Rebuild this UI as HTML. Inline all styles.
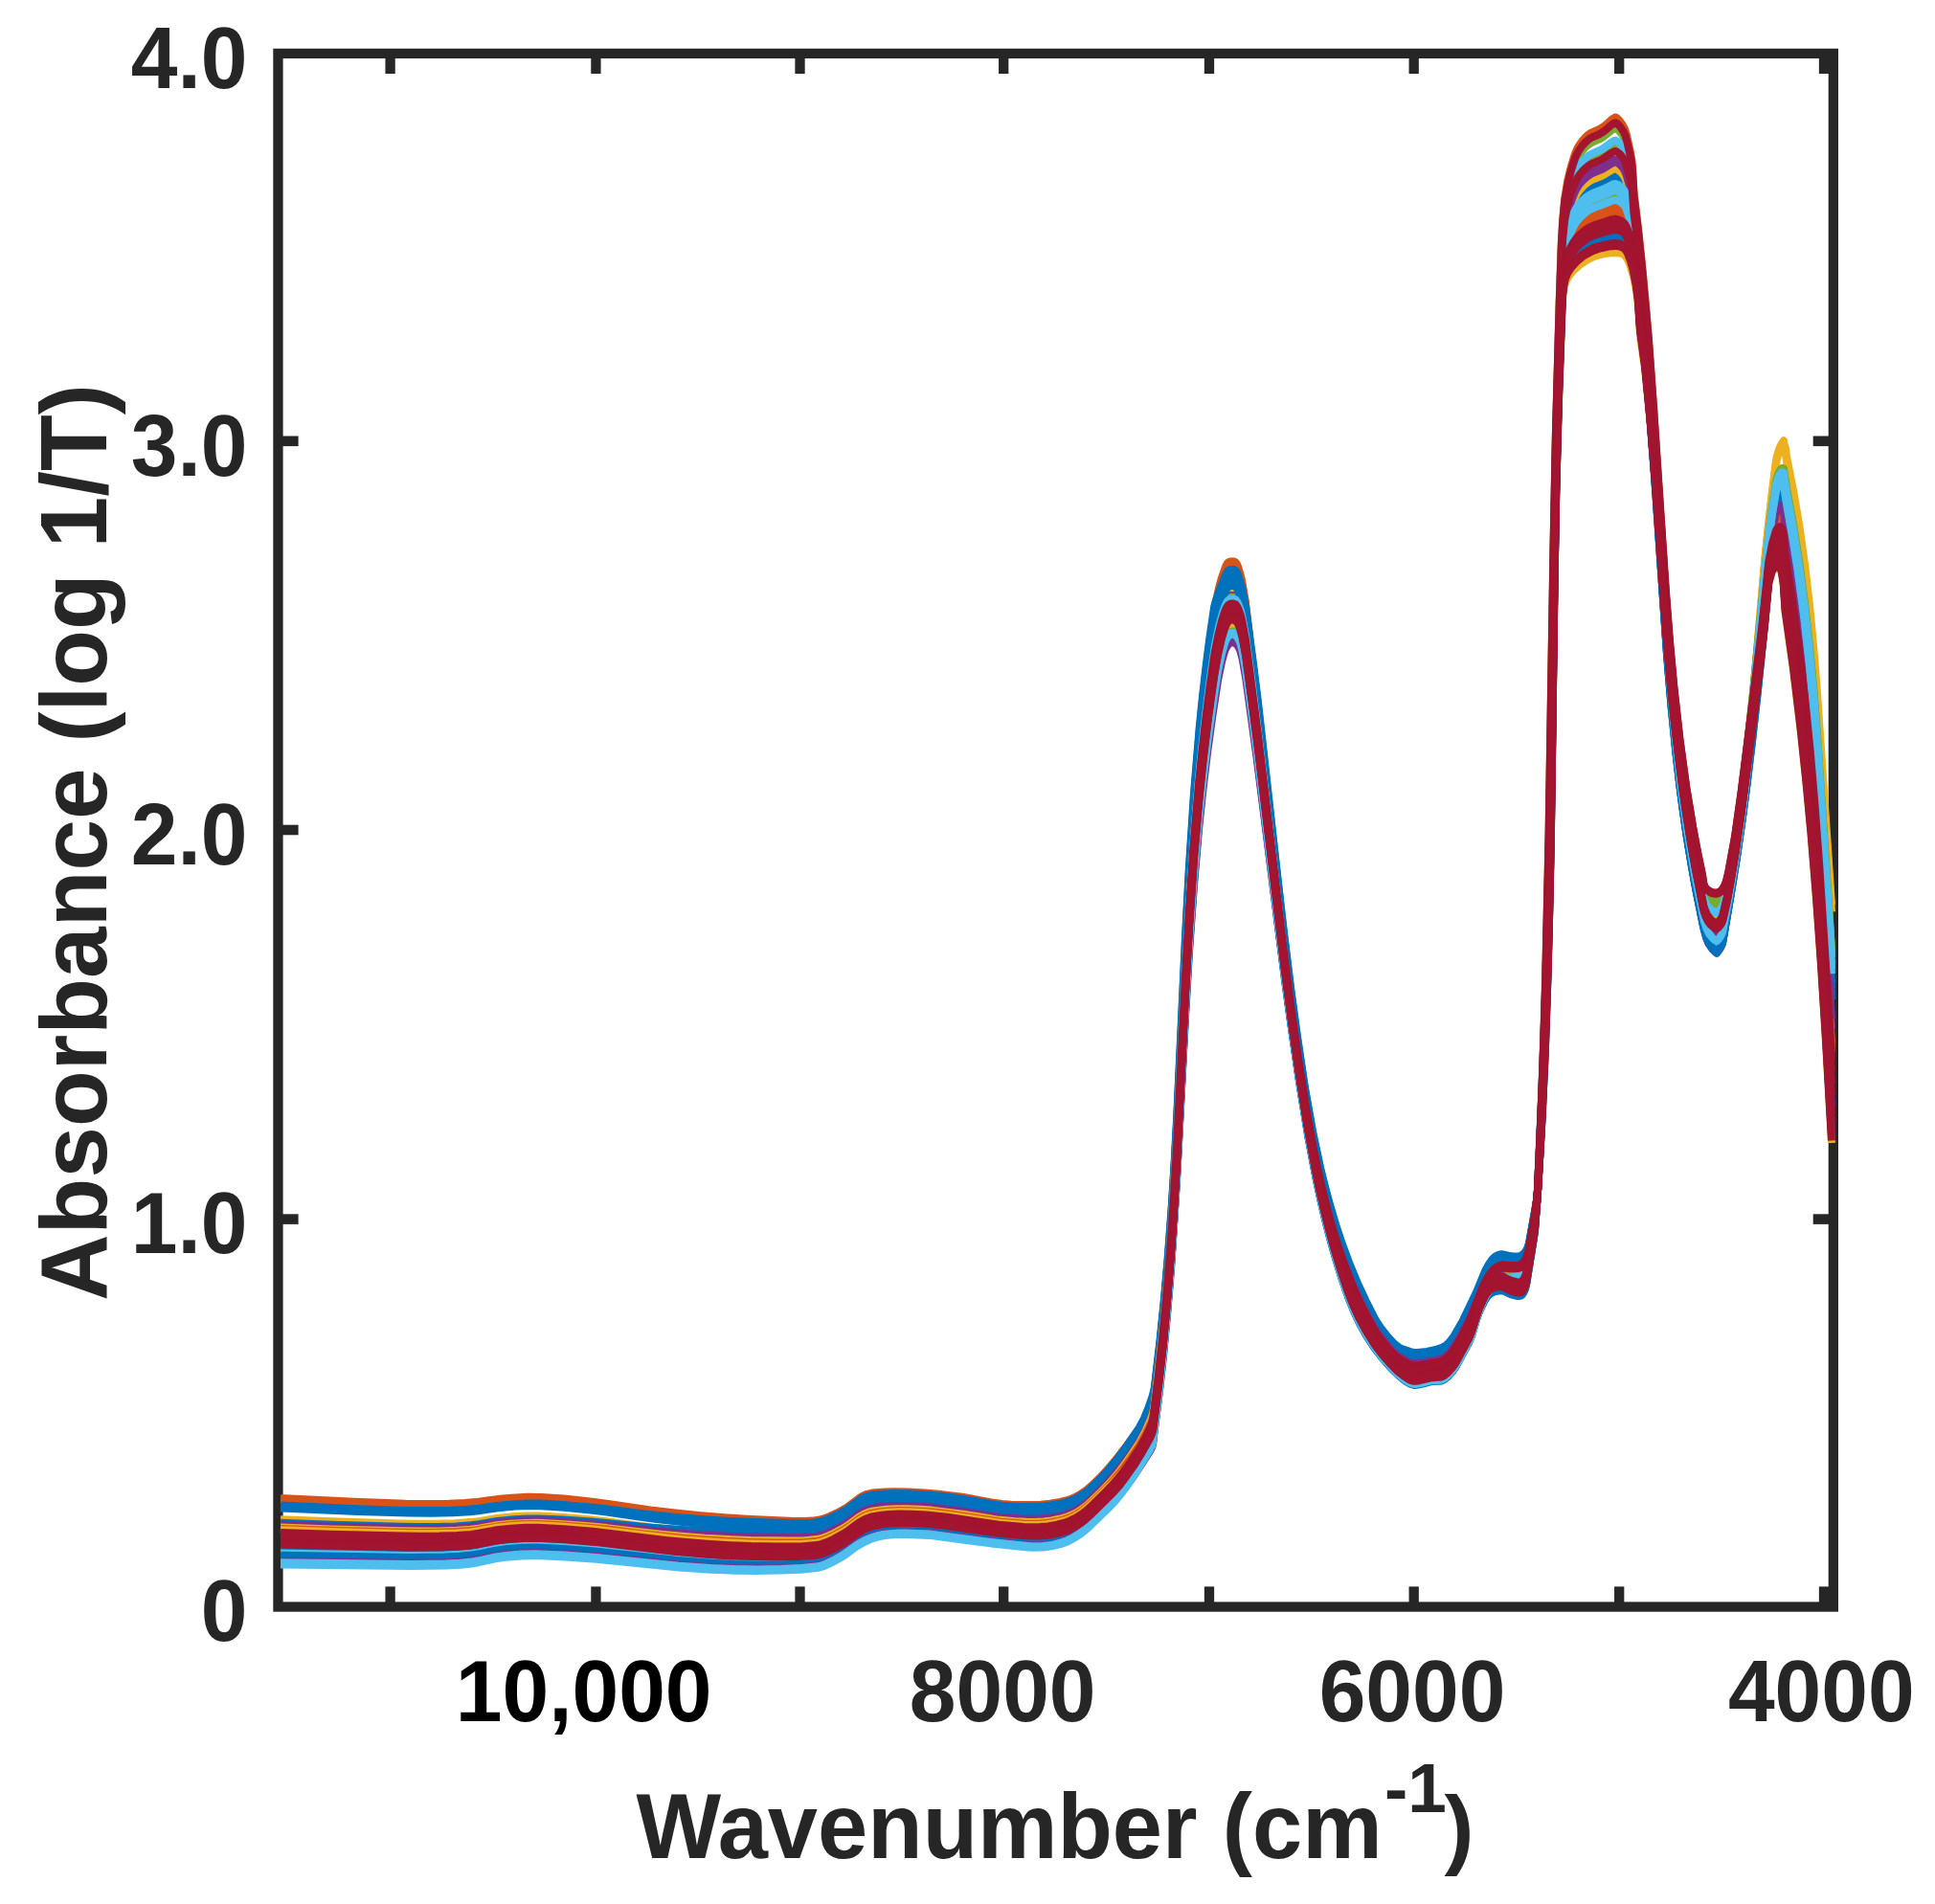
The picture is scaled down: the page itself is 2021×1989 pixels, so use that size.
<!DOCTYPE html>
<html><head><meta charset="utf-8"><title>Absorbance spectra</title>
<style>html,body{margin:0;padding:0;background:#fff;}svg{display:block;}</style>
</head><body>
<svg width="2021" height="1989" viewBox="0 0 2021 1989"><rect x="0" y="0" width="2021" height="1989" fill="#fff"/>
<rect x="290.45" y="55.9" width="1624.40" height="1622.65" fill="none" stroke="#262626" stroke-width="10.3"/>
<line x1="407.6" y1="1678.55" x2="407.6" y2="1657.40" stroke="#262626" stroke-width="10.3"/>
<line x1="407.6" y1="55.9" x2="407.6" y2="77.05" stroke="#262626" stroke-width="10.3"/>
<line x1="622.4" y1="1678.55" x2="622.4" y2="1657.40" stroke="#262626" stroke-width="10.3"/>
<line x1="622.4" y1="55.9" x2="622.4" y2="77.05" stroke="#262626" stroke-width="10.3"/>
<line x1="835.5" y1="1678.55" x2="835.5" y2="1657.40" stroke="#262626" stroke-width="10.3"/>
<line x1="835.5" y1="55.9" x2="835.5" y2="77.05" stroke="#262626" stroke-width="10.3"/>
<line x1="1048.2" y1="1678.55" x2="1048.2" y2="1657.40" stroke="#262626" stroke-width="10.3"/>
<line x1="1048.2" y1="55.9" x2="1048.2" y2="77.05" stroke="#262626" stroke-width="10.3"/>
<line x1="1263.0" y1="1678.55" x2="1263.0" y2="1657.40" stroke="#262626" stroke-width="10.3"/>
<line x1="1263.0" y1="55.9" x2="1263.0" y2="77.05" stroke="#262626" stroke-width="10.3"/>
<line x1="1476.7" y1="1678.55" x2="1476.7" y2="1657.40" stroke="#262626" stroke-width="10.3"/>
<line x1="1476.7" y1="55.9" x2="1476.7" y2="77.05" stroke="#262626" stroke-width="10.3"/>
<line x1="1691.2" y1="1678.55" x2="1691.2" y2="1657.40" stroke="#262626" stroke-width="10.3"/>
<line x1="1691.2" y1="55.9" x2="1691.2" y2="77.05" stroke="#262626" stroke-width="10.3"/>
<line x1="1905.0" y1="1678.55" x2="1905.0" y2="1657.40" stroke="#262626" stroke-width="10.3"/>
<line x1="1905.0" y1="55.9" x2="1905.0" y2="77.05" stroke="#262626" stroke-width="10.3"/>
<line x1="290.45" y1="460.8" x2="311.60" y2="460.8" stroke="#262626" stroke-width="10.6"/>
<line x1="1914.85" y1="460.8" x2="1893.70" y2="460.8" stroke="#262626" stroke-width="10.6"/>
<line x1="290.45" y1="867.0" x2="311.60" y2="867.0" stroke="#262626" stroke-width="10.6"/>
<line x1="1914.85" y1="867.0" x2="1893.70" y2="867.0" stroke="#262626" stroke-width="10.6"/>
<line x1="290.45" y1="1273.6" x2="311.60" y2="1273.6" stroke="#262626" stroke-width="10.6"/>
<line x1="1914.85" y1="1273.6" x2="1893.70" y2="1273.6" stroke="#262626" stroke-width="10.6"/>
<g fill="none" stroke-width="8" stroke-linejoin="round" stroke-linecap="butt"><path d="M293.0,1565.0 370.0,1568.8 423.2,1570.7 448.0,1571.0 468.8,1570.7 485.8,1570.0 497.0,1569.1 519.5,1566.1 534.2,1564.7 551.0,1563.8 565.5,1564.0 589.0,1565.6 616.2,1568.4 633.5,1570.6 679.2,1577.5 705.2,1580.5 732.0,1583.2 756.5,1585.2 779.2,1586.7 829.5,1589.0 840.5,1589.1 848.8,1588.6 854.5,1587.8 860.5,1586.3 866.2,1584.2 874.8,1580.2 884.5,1574.7 897.2,1565.2 901.0,1562.7 905.5,1560.8 910.8,1559.6 924.5,1558.6 934.5,1558.3 949.2,1558.6 966.0,1559.4 983.8,1561.1 1005.0,1563.8 1035.5,1569.4 1046.5,1571.0 1056.0,1571.7 1066.2,1572.1 1087.2,1571.7 1097.0,1570.7 1107.5,1568.9 1115.5,1566.9 1121.8,1564.6 1127.8,1561.4 1134.8,1556.6 1140.0,1552.1 1148.0,1544.4 1156.8,1535.0 1167.5,1522.2 1178.2,1508.2 1190.2,1491.5 1195.2,1482.2 1200.2,1470.6 1204.0,1460.0 1205.8,1452.0 1211.5,1403.4 1216.0,1360.0 1220.0,1314.8 1223.8,1264.8 1226.8,1217.6 1229.5,1167.9 1237.8,994.6 1241.5,923.9 1246.2,850.9 1251.8,784.1 1257.8,725.5 1268.8,633.9 1273.5,612.4 1276.0,603.6 1278.8,595.5 1280.5,591.0 1282.0,588.3 1283.5,587.0 1285.8,586.4 1288.5,586.5 1290.5,587.4 1291.8,589.1 1293.0,592.0 1295.2,599.1 1296.8,605.2 1300.8,628.3 1317.8,775.6 1338.5,960.4 1346.0,1022.2 1353.5,1078.9 1362.2,1138.4 1370.5,1186.4 1375.0,1209.1 1379.5,1229.8 1384.2,1249.7 1389.5,1269.6 1396.0,1292.0 1403.0,1313.6 1409.8,1332.1 1416.8,1349.1 1425.5,1367.5 1436.0,1387.0 1441.5,1395.2 1449.2,1404.9 1456.0,1412.1 1461.0,1416.3 1464.5,1418.4 1471.8,1421.7 1476.5,1423.1 1479.8,1423.2 1486.0,1422.3 1504.0,1418.8 1506.5,1417.9 1508.8,1416.7 1513.2,1412.9 1516.5,1409.1 1520.0,1403.9 1525.2,1394.9 1530.2,1385.3 1537.5,1370.0 1550.5,1337.4 1554.2,1330.5 1558.0,1325.0 1560.0,1322.8 1562.0,1321.1 1566.8,1318.7 1569.5,1318.1 1577.2,1319.0 1582.8,1319.1 1586.0,1318.7 1588.2,1318.0 1590.0,1316.9 1591.8,1315.3 1593.2,1313.1 1595.5,1307.8 1597.2,1301.2 1603.0,1268.7 1604.8,1256.6 1605.8,1247.5 1609.5,1163.0 1612.0,1094.7 1614.2,1019.1 1617.5,873.4 1622.2,584.0 1624.8,456.5 1628.8,310.8 1630.8,253.4 1632.2,229.2 1634.2,207.3 1637.2,189.2 1639.5,179.3 1642.0,170.1 1645.0,160.7 1647.5,154.8 1649.8,151.0 1652.5,147.2 1655.5,143.8 1658.8,140.8 1662.0,138.6 1669.8,135.3 1673.2,133.3 1676.5,130.9 1683.8,124.4 1686.8,122.6 1687.5,122.6 1688.8,123.3 1691.5,126.1 1694.8,130.7 1697.0,134.9 1698.8,140.6 1702.8,158.2 1704.5,168.3 1705.2,177.1 1706.5,200.7 1711.0,238.2 1715.0,275.8 1718.5,313.2 1721.8,352.4 1727.0,425.4 1739.8,622.4 1744.0,678.4 1748.5,728.9 1754.5,784.3 1761.0,832.3 1768.5,877.9 1773.0,901.7 1778.0,925.9 1779.2,933.9 1780.2,937.2 1781.5,939.9 1783.0,942.3 1784.8,944.3 1787.0,946.1 1789.8,947.6 1792.2,948.3 1793.8,948.0 1795.5,946.9 1797.2,945.3 1799.5,941.8 1802.2,933.5 1805.0,922.0 1812.2,880.9 1817.8,842.7 1823.0,802.1 1837.0,682.7 1847.2,584.4 1850.8,564.8 1854.8,549.1 1856.0,546.6 1857.8,544.5 1859.2,543.7 1860.5,544.3 1861.8,547.3 1863.0,553.0 1864.2,568.5 1872.2,619.7 1878.0,660.5 1884.5,713.5 1890.2,768.7 1895.0,822.5 1899.8,885.7 1910.0,1043.4 1913.0,1094.3" stroke="#D95319"/><path d="M293.0,1567.1 370.8,1570.8 424.0,1572.6 448.8,1572.9 469.2,1572.6 486.0,1571.9 497.0,1571.0 519.2,1567.9 533.8,1566.6 550.5,1565.7 565.2,1565.8 588.8,1567.4 616.2,1570.1 633.5,1572.2 679.2,1578.9 705.2,1582.0 731.8,1584.5 756.0,1586.5 778.8,1587.9 829.2,1590.0 840.2,1590.2 848.8,1589.6 854.5,1588.9 860.2,1587.4 866.0,1585.3 874.5,1581.3 884.2,1575.9 888.5,1572.9 897.2,1566.1 901.2,1563.6 905.8,1561.7 911.0,1560.6 924.5,1559.5 934.8,1559.2 949.2,1559.5 966.0,1560.3 983.5,1561.9 1005.0,1564.7 1035.5,1570.3 1046.8,1571.9 1056.5,1572.6 1066.8,1573.0 1087.5,1572.6 1097.0,1571.6 1107.8,1569.7 1115.5,1567.8 1121.8,1565.5 1128.0,1562.1 1134.8,1557.4 1140.0,1552.9 1148.0,1545.2 1156.8,1535.9 1167.8,1522.7 1178.5,1508.7 1190.2,1492.4 1195.5,1482.6 1200.5,1471.0 1204.0,1461.1 1205.8,1453.0 1211.5,1404.5 1216.0,1361.1 1220.0,1315.9 1223.8,1265.9 1226.8,1218.9 1229.5,1169.2 1237.8,996.2 1241.5,925.7 1246.2,852.8 1251.8,786.1 1258.0,725.4 1268.8,636.5 1273.5,615.0 1276.0,606.2 1278.8,598.0 1280.5,593.6 1282.0,590.9 1283.5,589.6 1285.8,588.9 1288.5,589.1 1290.5,590.0 1291.8,591.6 1293.0,594.5 1295.2,601.6 1296.8,607.6 1300.8,630.5 1317.5,774.8 1338.5,961.1 1346.0,1022.6 1353.5,1079.2 1362.2,1138.6 1370.5,1186.4 1374.8,1207.8 1379.2,1228.5 1384.0,1248.4 1389.2,1268.3 1395.8,1290.7 1402.5,1311.5 1409.5,1330.8 1416.5,1347.8 1425.2,1366.3 1436.0,1386.3 1441.2,1394.3 1448.8,1403.7 1456.0,1411.6 1461.0,1415.7 1464.5,1417.8 1471.8,1421.0 1476.2,1422.4 1479.5,1422.5 1485.8,1421.7 1503.2,1418.3 1508.0,1416.5 1512.5,1413.0 1515.8,1409.3 1519.2,1404.4 1524.8,1395.1 1529.0,1387.1 1537.2,1369.9 1550.5,1337.0 1554.0,1330.6 1557.8,1325.1 1559.8,1322.9 1561.8,1321.3 1564.2,1319.9 1566.8,1319.0 1569.5,1318.6 1577.2,1319.9 1582.2,1320.2 1585.5,1320.0 1587.8,1319.5 1589.5,1318.6 1591.2,1317.1 1592.8,1315.1 1595.0,1310.2 1597.0,1303.1 1603.2,1267.7 1605.8,1247.6 1608.5,1189.9 1612.8,1089.9 1616.0,993.8 1618.0,918.2 1619.8,833.8 1623.5,585.8 1625.2,494.9 1628.0,394.1 1631.2,303.6 1632.0,289.8 1633.8,274.4 1636.0,264.8 1638.0,259.3 1640.5,253.8 1643.8,248.1 1646.5,244.0 1649.2,240.9 1652.8,237.6 1656.8,234.5 1660.5,232.1 1666.2,229.6 1683.2,223.7 1687.2,223.0 1689.8,223.5 1692.2,224.6 1694.5,226.1 1696.5,228.0 1699.0,232.3 1702.2,241.5 1704.5,250.0 1709.5,283.2 1711.0,296.7 1713.0,322.8 1718.2,365.0 1723.5,420.6 1728.2,479.9 1740.2,645.3 1744.5,694.5 1749.0,739.1 1755.8,794.7 1764.0,851.1 1769.8,884.2 1778.0,925.4 1779.2,933.4 1780.2,936.7 1781.5,939.4 1783.0,941.7 1784.8,943.7 1787.0,945.5 1789.2,946.7 1791.0,947.4 1793.0,947.7 1795.8,946.1 1798.2,943.5 1800.0,940.0 1802.8,931.2 1805.2,920.4 1812.2,880.6 1817.8,842.3 1823.0,801.7 1837.5,679.1 1842.5,633.1 1847.2,585.7 1851.0,565.3 1855.0,550.7 1856.0,548.9 1857.5,547.1 1859.2,546.2 1860.5,546.9 1861.8,550.2 1863.0,556.1 1864.2,571.9 1873.0,628.6 1879.8,678.1 1885.8,729.1 1891.0,781.2 1895.8,836.4 1900.2,897.4 1910.0,1048.3 1913.0,1099.3" stroke="#D95319"/><path d="M293.0,1572.6 373.0,1576.2 425.5,1577.9 450.8,1578.1 470.5,1577.8 486.5,1577.0 497.0,1576.1 518.8,1573.0 532.0,1571.7 549.5,1570.6 564.5,1570.6 588.5,1572.0 616.2,1574.4 633.5,1576.3 678.0,1582.1 703.2,1584.7 728.5,1586.8 752.8,1588.4 776.0,1589.5 829.8,1591.2 840.2,1591.3 848.8,1590.7 854.5,1589.9 860.2,1588.4 866.0,1586.3 874.5,1582.2 884.2,1576.8 897.2,1567.1 901.0,1564.7 905.5,1562.8 911.0,1561.5 924.2,1560.4 934.5,1560.1 949.0,1560.3 965.8,1561.2 983.5,1562.8 1005.0,1565.6 1035.5,1571.2 1046.8,1572.7 1056.5,1573.5 1066.8,1573.9 1077.5,1573.8 1087.5,1573.5 1097.0,1572.5 1107.8,1570.6 1115.5,1568.7 1121.8,1566.3 1128.0,1562.9 1134.8,1558.2 1140.0,1553.7 1148.0,1546.0 1157.0,1536.3 1167.2,1523.7 1177.8,1509.3 1190.0,1491.2 1194.8,1482.0 1199.5,1470.6 1203.8,1458.1 1205.8,1449.4 1211.8,1397.7 1216.0,1355.9 1220.0,1310.0 1223.8,1259.2 1226.8,1211.3 1229.5,1160.8 1238.0,979.0 1241.8,907.8 1246.8,831.1 1252.5,762.2 1256.0,727.2 1259.8,694.1 1263.2,667.4 1268.2,633.7 1269.5,628.7 1272.2,620.5 1280.5,599.6 1282.5,596.4 1284.0,595.4 1285.8,594.9 1288.5,595.0 1290.5,595.9 1291.8,597.5 1293.0,600.3 1297.0,613.4 1301.2,635.0 1308.2,687.0 1314.0,733.7 1333.8,911.6 1341.5,978.6 1348.2,1032.9 1354.8,1081.2 1363.0,1136.5 1370.8,1180.5 1379.2,1220.5 1383.8,1238.9 1388.8,1257.5 1395.2,1279.4 1402.2,1300.5 1409.5,1320.1 1417.5,1339.4 1426.0,1357.8 1436.8,1379.0 1441.8,1386.7 1449.5,1396.5 1456.2,1403.7 1461.0,1407.5 1464.0,1408.9 1473.0,1412.1 1476.8,1413.0 1480.2,1413.0 1490.2,1411.9 1500.5,1409.6 1504.5,1408.4 1507.5,1407.0 1510.2,1405.3 1512.8,1403.1 1515.5,1399.9 1518.5,1395.7 1527.5,1380.3 1542.2,1349.6 1551.2,1327.4 1555.2,1320.2 1558.5,1315.5 1560.5,1313.5 1562.5,1312.1 1565.0,1310.9 1567.8,1310.2 1569.5,1310.3 1575.2,1311.7 1580.5,1312.4 1584.0,1312.5 1586.8,1312.2 1588.8,1311.4 1590.5,1310.3 1592.2,1308.7 1593.8,1306.6 1595.8,1302.6 1597.2,1297.4 1605.0,1254.1 1605.8,1247.5 1610.5,1137.5 1613.2,1061.9 1615.5,987.8 1619.0,834.4 1623.2,572.3 1625.2,471.3 1628.5,355.2 1631.0,286.1 1632.2,264.0 1634.2,246.2 1637.0,233.7 1639.2,226.4 1641.8,219.7 1645.0,212.4 1647.5,208.1 1650.0,204.8 1653.0,201.6 1656.2,198.7 1659.8,196.1 1663.8,194.0 1673.8,190.0 1682.5,185.1 1685.8,183.6 1687.0,183.3 1688.0,183.6 1691.2,185.3 1694.8,188.6 1697.2,192.2 1699.0,196.6 1702.5,208.7 1704.0,215.1 1705.0,221.4 1706.5,239.3 1710.2,266.4 1713.0,296.6 1717.8,339.1 1721.8,384.8 1727.5,463.3 1740.5,664.1 1745.0,722.2 1749.5,771.2 1755.5,824.7 1762.0,871.1 1770.0,918.1 1779.8,966.5 1782.5,975.5 1784.8,980.7 1789.0,986.2 1791.0,988.1 1792.8,989.3 1793.0,989.4 1795.0,987.2 1797.8,982.9 1798.8,980.6 1799.8,976.5 1807.2,934.0 1813.2,896.9 1820.0,850.4 1824.0,818.7 1830.5,755.7 1842.0,622.1 1847.5,566.3 1851.0,542.5 1855.0,520.2 1856.5,516.1 1858.2,512.7 1859.8,511.1 1861.0,511.0 1862.2,512.6 1863.0,514.4 1864.0,524.1 1866.0,536.9 1872.2,573.1 1877.5,607.1 1884.2,657.9 1890.0,710.2 1894.5,759.4 1898.8,814.6 1910.2,986.7 1913.0,1032.1" stroke="#0072BD"/><path d="M293.0,1575.4 373.5,1578.9 426.0,1580.5 451.2,1580.7 473.2,1580.3 490.8,1579.3 500.0,1578.3 520.2,1575.2 538.5,1573.6 552.2,1573.0 564.5,1573.2 589.0,1574.8 617.0,1577.5 633.5,1579.5 665.8,1584.4 683.8,1586.8 710.0,1589.8 735.2,1592.2 759.5,1594.1 782.2,1595.4 827.8,1597.1 840.0,1597.2 848.8,1596.6 854.2,1595.9 859.8,1594.5 865.5,1592.4 874.0,1588.4 883.8,1582.9 897.0,1573.1 901.2,1570.4 906.2,1568.4 912.2,1567.1 924.5,1565.9 934.8,1565.5 949.2,1565.7 965.8,1566.5 982.5,1568.0 1004.8,1570.9 1035.5,1576.3 1046.8,1577.8 1057.5,1578.7 1068.2,1579.1 1078.8,1579.2 1088.2,1578.8 1097.5,1577.8 1107.8,1575.9 1115.2,1573.9 1121.8,1571.4 1127.8,1568.1 1134.5,1563.3 1139.8,1558.8 1147.8,1551.0 1157.2,1541.0 1167.5,1528.4 1177.8,1514.2 1189.8,1496.0 1195.0,1485.8 1200.2,1473.1 1204.0,1461.9 1205.8,1453.4 1211.5,1403.9 1215.8,1362.4 1219.8,1316.9 1223.5,1266.7 1226.5,1219.5 1229.2,1169.7 1238.0,983.8 1241.8,912.8 1246.8,836.2 1252.5,767.3 1256.2,729.9 1260.0,697.3 1263.5,671.3 1268.2,640.4 1269.5,635.6 1272.5,626.6 1280.5,606.5 1282.8,603.0 1284.2,602.1 1286.0,601.6 1288.5,601.8 1290.5,602.7 1291.8,604.2 1293.0,606.9 1295.5,614.2 1297.0,619.7 1301.2,640.8 1308.0,689.4 1313.0,728.8 1339.8,966.2 1347.5,1029.1 1355.2,1086.6 1363.5,1141.3 1371.2,1184.8 1379.8,1224.5 1384.5,1243.8 1389.2,1261.4 1395.8,1283.2 1402.8,1304.2 1410.0,1323.7 1417.8,1342.3 1426.2,1360.5 1436.8,1380.8 1442.0,1388.8 1449.8,1398.5 1456.2,1405.5 1461.0,1409.2 1464.0,1410.7 1473.0,1414.2 1476.8,1415.1 1480.2,1415.0 1490.2,1413.9 1501.5,1411.4 1505.0,1410.2 1507.8,1408.9 1510.2,1407.3 1512.8,1405.2 1515.8,1401.7 1518.8,1397.4 1527.8,1381.9 1541.2,1353.5 1551.0,1329.7 1555.0,1322.5 1558.5,1317.5 1560.5,1315.5 1562.8,1314.0 1565.2,1312.9 1568.0,1312.3 1569.8,1312.4 1575.2,1313.8 1580.2,1314.4 1583.8,1314.6 1586.8,1314.3 1588.8,1313.5 1590.5,1312.4 1593.5,1308.9 1595.8,1304.1 1597.2,1298.7 1605.0,1254.3 1605.8,1247.5 1610.5,1139.1 1613.2,1064.3 1615.5,990.8 1619.0,838.2 1623.2,574.5 1625.2,472.9 1628.5,356.9 1631.0,287.8 1632.2,265.6 1634.2,248.0 1636.8,236.6 1639.0,229.3 1641.5,222.6 1644.8,215.3 1647.2,211.0 1649.8,207.7 1653.0,204.2 1656.2,201.3 1659.8,198.7 1663.8,196.6 1673.8,192.6 1685.5,186.5 1687.0,186.2 1687.8,186.3 1691.0,187.9 1694.5,191.0 1697.2,194.8 1699.0,199.1 1702.5,211.1 1704.0,217.4 1705.0,223.6 1706.5,241.1 1710.5,270.3 1713.0,298.5 1717.8,340.6 1721.8,386.3 1727.5,464.6 1740.5,665.3 1745.0,723.3 1749.5,772.2 1755.5,825.7 1762.0,872.1 1770.0,919.1 1779.8,967.4 1782.5,976.6 1784.8,981.8 1789.0,987.4 1791.0,989.4 1792.8,990.6 1793.0,990.7 1795.0,988.4 1797.8,984.0 1798.8,981.7 1799.8,977.6 1807.5,933.3 1813.5,896.0 1820.0,851.2 1824.0,819.5 1830.5,756.9 1842.0,624.1 1847.2,570.2 1850.8,546.5 1854.8,524.6 1856.0,520.8 1857.8,517.3 1859.2,515.3 1860.0,514.9 1860.8,514.9 1862.0,516.5 1863.0,519.0 1864.2,530.8 1872.2,578.7 1877.2,611.3 1884.0,662.3 1890.0,716.9 1894.5,766.3 1898.8,821.4 1910.2,994.0 1913.0,1039.6" stroke="#0072BD"/><path d="M293.0,1587.2 346.5,1589.3 416.5,1591.4 436.8,1591.8 455.0,1591.7 475.2,1591.2 491.2,1590.1 500.0,1589.1 519.5,1585.9 535.8,1584.3 550.5,1583.5 563.2,1583.5 588.5,1585.0 617.5,1587.5 633.5,1589.3 666.8,1593.7 687.5,1596.2 712.0,1598.7 735.0,1600.7 759.0,1602.3 781.8,1603.3 825.5,1604.3 838.8,1604.3 847.8,1603.7 853.5,1603.0 858.8,1601.8 864.2,1599.8 872.8,1595.9 882.8,1590.3 887.2,1587.3 897.0,1579.9 901.5,1577.1 907.8,1574.7 915.0,1573.3 926.0,1572.1 936.5,1571.7 950.5,1571.9 966.8,1572.7 982.5,1574.2 1005.2,1577.2 1035.2,1582.3 1046.2,1583.8 1067.5,1585.3 1077.2,1585.4 1086.0,1585.2 1094.8,1584.5 1104.0,1582.9 1112.0,1581.0 1118.8,1578.7 1124.8,1575.7 1130.8,1571.9 1136.2,1567.6 1142.8,1561.6 1155.5,1548.8 1166.0,1536.9 1176.5,1523.3 1189.0,1505.4 1195.8,1493.2 1201.8,1479.9 1204.2,1472.4 1205.8,1463.5 1211.2,1417.5 1215.8,1374.6 1219.8,1330.0 1223.5,1280.8 1229.2,1186.2 1238.0,1006.5 1241.8,937.6 1246.8,862.8 1252.2,797.8 1255.8,763.1 1259.5,730.0 1263.5,698.4 1268.5,662.6 1272.8,643.4 1276.0,631.9 1278.8,623.7 1280.5,619.4 1282.2,616.5 1284.0,615.0 1286.0,614.4 1288.5,614.5 1290.8,615.6 1292.0,617.3 1293.5,620.6 1295.5,626.4 1297.0,632.2 1301.0,653.6 1308.0,707.3 1314.8,762.5 1341.5,994.5 1348.8,1051.8 1355.8,1102.7 1364.5,1160.0 1372.8,1206.2 1377.2,1228.3 1382.0,1249.5 1387.0,1269.9 1392.0,1288.6 1398.5,1310.6 1405.5,1332.0 1411.5,1348.1 1418.0,1363.3 1426.2,1379.6 1435.8,1395.9 1442.0,1404.8 1450.2,1414.7 1457.0,1421.8 1462.2,1426.2 1471.2,1431.5 1474.0,1432.7 1476.2,1433.3 1478.5,1433.4 1481.8,1433.0 1495.5,1430.2 1504.8,1428.9 1508.2,1427.4 1512.2,1424.3 1516.5,1419.5 1520.2,1414.1 1532.8,1391.0 1537.0,1381.8 1543.2,1363.9 1548.2,1351.7 1551.8,1344.7 1555.5,1339.4 1557.8,1337.2 1560.2,1335.3 1562.8,1334.2 1565.5,1333.4 1568.0,1333.2 1569.8,1333.4 1578.2,1336.3 1582.5,1337.2 1585.5,1337.4 1587.5,1337.2 1589.0,1336.5 1590.5,1335.2 1591.8,1333.5 1593.8,1329.0 1595.5,1321.6 1598.0,1308.4 1603.0,1277.7 1605.8,1247.8 1610.5,1159.9 1614.2,1075.8 1617.0,996.5 1618.8,929.7 1620.0,867.0 1623.5,614.8 1625.2,519.3 1627.8,426.2 1631.8,316.8 1632.5,307.7 1634.0,298.8 1635.8,293.5 1638.5,288.6 1643.5,282.5 1650.0,276.7 1657.5,271.6 1665.0,268.0 1674.0,265.4 1684.2,264.0 1691.8,264.4 1694.0,265.0 1696.2,266.3 1698.0,268.0 1699.5,270.2 1702.2,276.4 1706.0,288.5 1708.5,300.6 1710.8,317.5 1713.2,352.2 1718.2,387.5 1724.0,445.7 1728.8,503.0 1740.2,657.1 1744.5,705.1 1748.8,746.2 1755.2,799.2 1763.2,854.3 1770.8,897.5 1778.0,933.4 1779.2,940.9 1780.2,944.4 1782.2,948.9 1784.2,952.1 1786.5,954.4 1789.5,956.5 1793.0,957.8 1795.2,956.3 1797.2,954.2 1798.5,952.4 1799.5,950.1 1802.2,940.1 1805.0,927.8 1808.2,910.1 1812.0,887.7 1817.5,850.0 1821.5,819.5 1825.0,789.0 1831.0,727.2 1843.0,587.1 1847.0,548.0 1851.2,511.0 1854.8,482.2 1855.5,478.2 1857.0,472.6 1858.8,467.6 1860.8,463.6 1863.0,460.3 1863.5,463.9 1864.8,467.6 1866.2,477.9 1873.2,513.1 1879.2,548.5 1885.2,590.9 1890.5,636.8 1894.2,676.7 1897.8,720.9 1913.0,945.0" stroke="#EDB120"/><path d="M293.0,1590.7 346.5,1592.7 418.5,1594.7 438.0,1595.1 456.8,1594.9 476.2,1594.4 491.5,1593.3 500.0,1592.2 519.2,1589.0 534.2,1587.5 549.5,1586.6 562.5,1586.4 588.0,1587.6 617.2,1589.5 633.5,1590.9 680.2,1595.7 705.2,1597.6 727.5,1599.0 751.8,1600.1 775.2,1600.7 828.5,1601.2 839.5,1601.0 853.0,1599.7 857.5,1598.7 862.5,1597.1 871.5,1593.1 882.2,1587.2 887.2,1584.0 897.5,1576.2 902.8,1573.1 906.8,1571.6 911.0,1570.6 924.2,1569.1 934.2,1568.6 946.5,1568.7 962.2,1569.3 974.5,1570.3 1007.2,1574.4 1040.8,1580.1 1056.5,1581.7 1068.5,1582.2 1079.8,1582.3 1089.5,1581.8 1098.2,1580.8 1106.8,1579.2 1113.5,1577.5 1119.2,1575.5 1124.5,1572.9 1129.8,1569.7 1135.5,1565.4 1148.8,1552.9 1158.5,1542.6 1168.2,1531.0 1178.8,1516.9 1190.0,1500.5 1196.0,1489.2 1201.5,1476.6 1204.0,1469.3 1205.8,1459.9 1211.5,1411.4 1215.8,1370.5 1219.8,1325.8 1223.5,1276.4 1226.5,1230.0 1229.2,1181.2 1238.0,999.7 1241.8,930.3 1246.8,855.1 1252.2,789.8 1255.8,755.0 1259.5,721.8 1263.5,690.1 1268.5,654.1 1272.8,635.8 1276.0,624.8 1279.0,616.2 1280.8,612.0 1282.2,609.6 1283.8,608.3 1286.0,607.6 1288.5,607.7 1290.5,608.6 1291.8,610.1 1293.2,613.4 1295.5,620.0 1297.0,625.8 1301.0,647.3 1313.8,748.6 1340.2,978.2 1347.2,1033.6 1354.2,1084.8 1362.8,1140.9 1370.8,1185.9 1379.2,1225.5 1383.8,1243.8 1388.8,1262.2 1395.2,1283.9 1402.2,1304.7 1409.5,1324.1 1417.5,1343.2 1426.0,1361.4 1436.5,1381.6 1441.8,1389.6 1449.5,1399.4 1456.2,1406.6 1461.0,1410.4 1464.2,1412.1 1472.8,1415.4 1476.8,1416.4 1480.2,1416.4 1489.8,1415.2 1501.8,1412.6 1507.5,1410.5 1510.2,1408.7 1512.5,1406.8 1515.5,1403.4 1518.8,1398.8 1527.8,1383.3 1540.0,1357.6 1551.0,1330.8 1554.8,1324.1 1558.2,1319.1 1560.2,1317.0 1562.5,1315.4 1565.0,1314.3 1567.8,1313.6 1569.8,1313.7 1575.5,1315.1 1580.5,1315.7 1584.0,1315.9 1586.8,1315.5 1588.5,1314.9 1590.2,1313.8 1591.8,1312.4 1593.2,1310.4 1595.5,1305.7 1597.2,1299.4 1603.2,1265.8 1605.0,1254.5 1605.8,1247.5 1611.8,1114.9 1614.8,1037.4 1617.2,959.0 1620.2,825.1 1623.5,601.4 1625.2,508.3 1627.8,415.3 1631.8,306.4 1632.8,294.9 1634.5,285.0 1636.8,278.5 1640.2,271.9 1645.8,264.5 1651.5,259.0 1659.2,253.7 1667.0,250.2 1679.2,246.8 1686.8,245.6 1689.5,245.9 1692.2,246.6 1694.5,247.7 1696.5,249.3 1698.2,251.5 1699.8,254.3 1703.2,263.9 1705.2,271.7 1708.5,289.7 1710.8,306.9 1713.2,340.1 1718.2,378.0 1723.2,432.1 1728.5,499.9 1740.8,676.5 1745.2,730.3 1749.8,775.7 1756.5,832.0 1764.0,882.7 1768.5,908.9 1773.2,934.0 1779.2,963.6 1781.8,972.3 1783.2,976.5 1785.0,980.0 1787.8,983.6 1790.8,986.7 1793.0,988.2 1796.0,984.6 1798.2,980.7 1799.5,976.7 1807.0,934.8 1812.2,902.7 1818.0,864.0 1822.0,834.4 1825.5,804.5 1831.0,749.2 1841.8,623.5 1847.2,566.9 1850.8,542.4 1855.0,517.9 1856.5,513.7 1858.2,510.2 1859.8,508.5 1861.0,508.3 1862.2,509.7 1863.0,511.3 1864.0,520.7 1866.0,533.4 1872.0,567.8 1877.2,601.4 1884.0,651.6 1890.0,705.7 1894.5,754.9 1898.8,810.0 1910.2,981.9 1913.0,1027.1" stroke="#0072BD"/><path d="M293.0,1592.8 346.2,1594.7 419.0,1596.7 438.2,1597.0 457.0,1596.9 476.2,1596.3 491.5,1595.2 500.0,1594.1 519.2,1590.8 534.2,1589.3 549.5,1588.4 562.8,1588.3 588.5,1589.7 617.8,1591.9 633.8,1593.5 666.5,1597.4 687.2,1599.5 711.0,1601.7 732.8,1603.3 756.8,1604.6 779.8,1605.4 825.5,1606.0 838.2,1605.9 847.5,1605.3 853.5,1604.6 858.5,1603.4 864.0,1601.5 872.8,1597.4 882.5,1591.9 887.0,1588.9 896.8,1581.6 901.5,1578.6 907.8,1576.2 915.5,1574.6 926.0,1573.5 936.8,1573.1 950.8,1573.2 967.0,1574.0 982.5,1575.6 1005.2,1578.6 1035.2,1583.6 1046.2,1585.0 1067.8,1586.6 1077.2,1586.8 1086.0,1586.6 1094.8,1585.8 1104.0,1584.3 1112.0,1582.3 1118.8,1580.0 1124.8,1577.0 1130.8,1573.1 1136.2,1568.9 1142.5,1563.0 1155.8,1549.8 1166.2,1538.0 1176.8,1524.5 1189.0,1507.2 1196.0,1494.8 1202.0,1481.9 1204.2,1475.1 1205.8,1465.9 1211.2,1420.3 1215.8,1377.5 1219.8,1333.2 1223.5,1284.3 1229.2,1190.3 1238.0,1012.1 1241.8,943.7 1246.8,869.5 1252.2,804.8 1255.8,770.2 1259.8,735.1 1264.0,702.0 1268.8,668.6 1272.8,650.1 1276.0,638.2 1278.8,629.8 1280.5,625.4 1282.2,622.5 1284.0,621.0 1286.0,620.3 1288.5,620.4 1290.8,621.5 1292.2,623.6 1294.0,627.7 1295.8,632.9 1297.2,638.9 1301.2,660.9 1313.8,758.9 1335.0,941.7 1344.5,1019.2 1356.0,1103.3 1361.5,1139.3 1366.5,1169.3 1371.2,1195.0 1376.2,1219.4 1381.5,1242.3 1387.0,1263.9 1393.0,1285.1 1399.5,1305.7 1406.2,1325.1 1413.0,1342.3 1420.5,1359.2 1428.5,1375.0 1437.0,1390.2 1443.8,1399.6 1453.0,1410.5 1457.0,1414.6 1460.2,1417.3 1464.2,1419.8 1472.0,1423.5 1475.0,1424.6 1477.8,1424.9 1487.0,1423.8 1505.0,1420.2 1507.2,1419.3 1509.8,1417.7 1514.5,1413.3 1518.0,1408.7 1521.2,1403.6 1526.0,1395.2 1532.0,1383.6 1536.8,1373.5 1544.0,1355.4 1549.5,1343.1 1552.2,1338.7 1556.0,1335.0 1558.0,1333.9 1560.0,1333.4 1562.0,1333.5 1564.5,1334.3 1569.2,1336.9 1577.5,1344.7 1582.2,1348.0 1584.8,1349.1 1586.8,1349.6 1588.5,1349.4 1589.8,1348.5 1591.2,1346.5 1592.5,1344.1 1594.2,1338.0 1600.5,1300.8 1603.0,1283.6 1605.8,1247.9 1607.8,1215.2 1610.0,1172.2 1612.0,1125.8 1615.0,1034.9 1617.5,929.3 1619.5,817.1 1623.2,564.9 1625.2,463.7 1629.0,332.9 1631.0,278.3 1632.5,253.6 1634.5,236.5 1637.5,222.7 1639.8,215.2 1642.2,208.2 1645.2,201.1 1647.8,196.6 1650.2,193.2 1653.2,189.8 1656.5,186.8 1659.8,184.3 1663.2,182.5 1673.5,178.2 1683.0,172.3 1686.2,170.8 1687.0,170.6 1688.2,170.9 1691.5,173.1 1695.0,176.8 1697.2,180.3 1699.0,185.1 1702.5,197.9 1704.8,209.1 1706.5,231.2 1710.5,261.4 1713.0,288.2 1717.5,329.5 1721.5,375.9 1727.5,459.8 1740.5,665.5 1745.0,724.9 1749.5,775.0 1755.2,827.5 1761.5,872.8 1769.8,921.7 1779.5,970.3 1782.5,980.8 1784.5,985.8 1788.5,991.6 1792.5,995.5 1793.0,995.8 1796.8,990.6 1798.5,987.1 1799.5,983.3 1808.5,930.2 1814.0,895.5 1820.2,852.4 1824.2,820.9 1831.2,754.4 1842.0,633.4 1847.2,579.2 1850.8,558.1 1854.8,540.1 1856.0,537.2 1857.5,534.9 1859.2,533.4 1860.5,533.6 1861.8,536.0 1863.0,540.6 1864.2,554.8 1872.2,604.8 1877.5,640.9 1884.2,694.2 1890.0,748.2 1894.8,801.2 1899.2,860.3 1910.0,1024.1 1913.0,1074.4" stroke="#7E2F8E"/><path d="M293.0,1595.5 345.8,1597.4 420.0,1599.3 438.8,1599.6 457.8,1599.4 476.8,1598.8 491.5,1597.8 500.0,1596.7 519.2,1593.3 533.8,1591.8 549.0,1590.9 562.5,1590.8 588.5,1592.2 618.0,1594.6 633.8,1596.1 667.5,1600.3 692.0,1603.0 714.2,1605.1 735.8,1606.8 760.2,1608.1 783.5,1609.0 825.0,1609.5 839.2,1609.4 853.0,1608.1 857.5,1607.2 862.2,1605.6 870.8,1601.8 881.0,1596.3 886.2,1592.9 897.2,1584.6 902.8,1581.4 907.2,1579.7 912.0,1578.5 925.8,1576.7 935.2,1576.2 946.8,1576.2 961.2,1576.8 973.0,1577.6 1007.2,1582.0 1040.8,1587.4 1060.0,1589.2 1071.5,1589.8 1081.5,1589.9 1090.5,1589.4 1098.5,1588.4 1106.8,1586.8 1113.5,1584.9 1119.5,1582.6 1125.0,1579.8 1130.5,1576.2 1135.8,1572.1 1149.8,1558.7 1160.0,1548.0 1168.8,1537.6 1179.0,1523.7 1189.8,1507.6 1196.8,1494.4 1202.2,1481.9 1204.2,1475.6 1205.8,1466.2 1211.2,1420.1 1215.8,1377.0 1219.8,1332.4 1223.5,1283.1 1229.2,1188.4 1238.0,1008.8 1241.8,939.8 1246.8,865.0 1252.2,799.9 1255.8,765.1 1259.8,730.0 1264.0,696.8 1268.8,663.3 1273.0,644.4 1276.2,632.9 1279.0,624.8 1280.8,620.6 1282.2,618.2 1284.0,616.7 1286.0,616.1 1288.5,616.2 1290.8,617.3 1292.0,619.0 1293.5,622.3 1295.5,628.0 1297.0,633.8 1301.0,655.2 1308.0,708.8 1314.8,763.8 1341.2,993.1 1348.5,1050.3 1355.5,1101.2 1364.2,1158.6 1372.8,1206.1 1381.8,1248.2 1386.5,1267.6 1391.8,1287.2 1398.2,1309.3 1405.2,1330.6 1411.5,1347.4 1418.0,1362.5 1426.2,1378.9 1435.8,1395.3 1442.0,1404.2 1450.2,1414.1 1457.0,1421.2 1462.0,1425.4 1471.2,1430.9 1474.0,1432.0 1476.2,1432.6 1478.8,1432.7 1482.0,1432.3 1495.5,1429.6 1504.8,1428.2 1508.5,1426.6 1512.5,1423.4 1516.5,1418.8 1520.2,1413.4 1532.5,1390.8 1537.0,1381.1 1543.2,1363.3 1548.5,1350.5 1551.8,1344.1 1555.8,1338.5 1558.2,1336.0 1560.5,1334.4 1563.0,1333.3 1565.8,1332.6 1569.8,1332.6 1578.0,1335.4 1585.2,1336.6 1587.2,1336.4 1589.0,1335.7 1590.5,1334.4 1591.8,1332.7 1593.8,1328.3 1595.5,1321.0 1598.0,1307.9 1603.0,1277.3 1605.8,1247.8 1609.8,1172.8 1613.2,1093.3 1616.2,1005.4 1618.2,928.0 1619.8,853.0 1623.5,594.2 1625.2,501.6 1627.8,408.6 1631.8,300.0 1632.8,288.2 1634.5,277.7 1636.8,270.5 1640.2,263.1 1645.2,255.4 1650.2,250.0 1657.8,244.2 1661.2,242.2 1665.0,240.5 1679.2,235.9 1685.2,234.5 1687.0,234.3 1689.0,234.6 1693.2,236.1 1696.8,238.9 1699.2,243.1 1702.8,252.7 1705.2,263.0 1710.2,295.5 1713.0,330.3 1718.0,369.0 1722.5,415.4 1728.0,482.4 1740.5,654.8 1744.8,703.9 1749.2,748.2 1755.5,799.8 1763.0,851.7 1770.2,893.8 1778.0,932.4 1779.2,940.0 1780.0,942.7 1781.8,946.9 1783.8,950.3 1785.8,952.6 1788.5,954.7 1791.0,956.0 1793.0,956.5 1795.0,955.2 1796.8,953.6 1798.2,951.6 1799.2,949.7 1802.0,940.2 1804.8,928.2 1808.0,910.8 1812.0,887.1 1817.0,852.9 1821.2,820.8 1824.8,790.7 1830.8,730.0 1843.2,586.5 1847.0,549.9 1851.0,515.5 1854.8,485.6 1855.5,481.7 1857.2,475.5 1859.0,470.8 1861.0,467.3 1863.0,465.0 1863.5,468.7 1864.8,472.8 1866.2,483.1 1873.2,518.8 1879.2,554.6 1885.2,597.4 1890.5,643.5 1894.2,683.5 1898.0,731.1 1913.0,952.5" stroke="#EDB120"/><path d="M293.0,1596.9 345.8,1598.7 420.5,1600.7 439.0,1600.9 458.0,1600.7 476.8,1600.1 491.5,1599.1 500.0,1597.9 519.2,1594.6 533.8,1593.0 549.0,1592.1 562.5,1592.0 588.8,1593.5 618.2,1595.9 634.0,1597.6 668.0,1601.9 693.8,1604.8 715.0,1606.9 736.5,1608.6 760.2,1610.0 783.0,1610.9 809.0,1611.4 837.5,1611.4 853.0,1610.1 858.0,1609.0 863.2,1607.2 871.8,1603.3 881.5,1597.9 886.5,1594.6 896.8,1586.9 901.8,1583.9 909.0,1581.1 917.8,1579.4 927.5,1578.4 938.2,1578.0 952.0,1578.2 967.5,1578.9 978.8,1580.0 992.8,1581.8 1046.0,1589.7 1068.5,1591.4 1077.8,1591.7 1086.0,1591.5 1094.5,1590.8 1103.2,1589.3 1111.0,1587.4 1117.8,1585.1 1123.8,1582.2 1129.8,1578.4 1135.5,1574.0 1141.5,1568.5 1155.5,1554.6 1164.2,1545.1 1172.5,1534.9 1181.8,1522.3 1189.8,1510.4 1196.5,1498.3 1202.2,1486.1 1203.8,1482.0 1204.5,1478.5 1206.0,1468.3 1210.0,1435.4 1215.0,1389.5 1219.2,1343.6 1223.2,1292.4 1226.2,1247.3 1229.2,1195.3 1238.0,1018.3 1241.8,950.4 1246.8,876.3 1252.2,811.8 1255.8,777.3 1259.8,742.3 1264.0,709.3 1268.8,676.1 1272.8,656.7 1276.0,644.5 1278.5,636.5 1280.2,632.0 1282.0,628.8 1283.8,627.2 1286.0,626.3 1288.5,626.4 1290.8,627.5 1292.2,629.5 1294.0,633.4 1295.8,638.5 1297.2,644.5 1301.0,664.8 1313.8,763.7 1340.8,991.8 1348.0,1047.8 1355.0,1097.7 1363.8,1154.0 1371.8,1198.0 1376.0,1218.5 1380.5,1238.2 1385.2,1257.1 1390.2,1275.3 1397.0,1297.4 1404.2,1318.7 1411.0,1336.4 1418.5,1353.8 1426.8,1370.7 1436.5,1388.4 1442.2,1396.8 1450.5,1406.9 1456.8,1413.4 1461.5,1417.3 1464.8,1419.1 1472.0,1422.5 1476.8,1423.9 1479.8,1423.8 1485.8,1423.0 1504.0,1419.5 1508.5,1417.5 1512.8,1414.1 1516.0,1410.4 1519.5,1405.4 1529.0,1388.5 1537.0,1371.9 1550.0,1339.7 1553.0,1334.2 1557.0,1328.6 1559.0,1326.6 1561.0,1325.1 1563.5,1324.0 1566.0,1323.3 1569.2,1323.3 1577.8,1325.9 1582.2,1326.8 1585.2,1327.0 1587.2,1326.7 1589.0,1326.0 1590.8,1324.6 1592.2,1322.6 1594.5,1317.5 1597.0,1307.5 1603.0,1272.7 1605.8,1247.7 1608.8,1187.7 1612.8,1094.6 1615.8,1005.5 1617.8,929.4 1619.5,844.9 1623.2,596.4 1625.2,490.6 1628.0,389.9 1631.2,299.4 1632.0,285.8 1633.8,270.0 1636.0,259.9 1638.0,254.1 1640.5,248.3 1644.0,241.8 1646.8,237.6 1649.5,234.3 1653.0,231.0 1656.8,228.0 1660.2,225.8 1665.5,223.3 1683.8,216.6 1687.5,215.9 1690.0,216.6 1692.2,217.7 1694.5,219.4 1696.5,221.4 1699.0,225.9 1702.2,235.5 1704.5,244.2 1706.5,260.0 1709.8,281.0 1711.0,292.6 1713.0,318.1 1718.2,361.2 1723.5,417.6 1728.2,477.8 1740.0,641.9 1744.2,692.2 1748.5,735.4 1754.8,788.5 1762.0,839.9 1769.0,881.6 1778.0,926.9 1779.5,935.8 1780.5,938.8 1782.0,941.8 1783.5,944.0 1785.2,945.9 1788.0,947.9 1790.5,949.1 1793.0,949.6 1794.2,948.9 1797.2,946.5 1799.5,942.9 1802.5,933.4 1805.2,921.5 1812.2,881.6 1817.8,843.4 1823.5,798.8 1836.2,688.9 1847.2,583.1 1850.8,563.1 1854.8,546.8 1856.0,544.2 1857.5,542.2 1859.2,541.1 1860.5,541.6 1861.8,544.5 1863.0,549.9 1864.2,565.0 1872.2,616.0 1878.0,656.5 1884.5,709.2 1890.2,764.2 1895.0,817.9 1899.8,881.1 1910.0,1038.6 1913.0,1089.3" stroke="#D95319"/><path d="M293.0,1598.3 345.5,1600.1 421.0,1602.0 439.2,1602.2 458.2,1602.0 477.0,1601.4 491.5,1600.4 500.0,1599.2 519.0,1595.8 533.5,1594.3 549.0,1593.3 562.5,1593.3 589.0,1594.7 618.8,1597.3 695.0,1606.3 715.8,1608.4 737.0,1610.1 760.5,1611.5 783.2,1612.4 808.8,1612.9 836.8,1612.9 852.8,1611.7 857.5,1610.6 862.8,1608.9 871.0,1605.1 881.0,1599.7 886.2,1596.2 896.8,1588.4 901.8,1585.4 905.5,1583.7 909.5,1582.4 919.0,1580.6 928.2,1579.7 939.0,1579.3 952.5,1579.5 967.8,1580.3 991.5,1582.9 1045.8,1591.0 1068.0,1592.7 1085.0,1592.9 1093.2,1592.3 1101.5,1591.0 1109.5,1589.2 1116.2,1587.0 1122.2,1584.3 1128.0,1580.9 1134.0,1576.5 1139.2,1571.8 1164.8,1546.5 1172.8,1537.4 1181.5,1526.7 1189.5,1516.3 1197.5,1503.7 1202.2,1495.4 1203.5,1492.5 1204.2,1489.8 1210.0,1445.7 1214.8,1403.6 1219.0,1359.6 1223.0,1310.5 1226.0,1267.3 1229.0,1217.7 1238.0,1044.0 1242.0,974.9 1247.0,904.2 1252.5,842.1 1257.0,799.6 1261.8,760.6 1268.0,715.8 1272.0,692.1 1276.0,673.9 1279.2,662.8 1280.8,659.4 1282.5,656.6 1284.2,655.1 1286.2,654.3 1288.5,654.4 1291.0,655.7 1292.8,658.0 1294.8,662.1 1296.0,665.8 1297.5,672.0 1301.0,691.1 1314.0,788.4 1341.2,1009.8 1348.8,1065.7 1356.0,1115.5 1365.0,1171.5 1373.2,1215.6 1377.8,1236.7 1382.2,1255.9 1387.0,1274.4 1392.2,1293.0 1399.0,1314.8 1406.0,1335.0 1412.8,1352.2 1419.8,1367.7 1427.5,1382.6 1436.5,1397.7 1443.5,1407.3 1452.2,1417.5 1458.2,1423.5 1463.5,1427.6 1471.8,1432.4 1474.5,1433.5 1476.8,1434.0 1482.2,1433.6 1495.5,1430.9 1505.0,1429.6 1508.8,1427.8 1513.0,1424.2 1517.0,1419.6 1520.5,1414.5 1533.0,1391.2 1537.0,1382.5 1543.2,1364.4 1548.2,1352.3 1551.8,1345.3 1555.5,1340.1 1557.8,1337.8 1560.2,1336.0 1562.8,1334.9 1565.5,1334.2 1569.8,1334.1 1578.2,1337.1 1582.5,1338.0 1585.5,1338.3 1587.5,1338.0 1589.0,1337.4 1590.5,1336.0 1591.8,1334.3 1593.5,1330.5 1595.2,1323.5 1598.0,1308.9 1602.8,1279.9 1605.8,1247.8 1609.0,1186.7 1612.0,1117.3 1614.8,1035.1 1616.8,957.8 1618.5,872.8 1623.0,583.5 1625.0,478.1 1628.5,350.9 1631.0,281.8 1632.2,259.9 1634.2,241.7 1637.0,228.7 1639.2,221.0 1641.8,214.1 1645.0,206.4 1647.5,201.9 1650.0,198.5 1653.0,195.2 1656.2,192.2 1659.8,189.6 1663.5,187.6 1673.5,183.5 1683.0,177.9 1686.5,176.4 1687.2,176.3 1688.8,176.8 1691.8,178.8 1695.0,182.2 1697.2,185.6 1699.0,190.2 1702.2,201.8 1704.8,213.7 1706.5,234.8 1710.2,262.4 1713.0,291.9 1717.8,334.7 1721.8,379.2 1727.5,454.9 1740.5,647.0 1745.0,702.4 1749.5,749.4 1756.0,805.1 1763.2,855.3 1771.8,903.7 1778.0,934.4 1779.2,941.9 1781.0,947.2 1783.2,951.7 1785.5,954.6 1789.5,957.7 1793.0,959.1 1796.2,956.5 1798.8,953.1 1800.0,949.6 1803.0,937.8 1806.5,920.7 1811.8,890.0 1818.5,843.4 1839.0,688.7 1843.2,651.5 1847.2,610.2 1848.8,604.0 1850.5,598.5 1851.8,595.9 1853.2,594.3 1854.5,593.7 1856.0,593.5 1857.5,593.8 1858.5,594.4 1860.0,596.4 1861.0,599.8 1862.8,611.9 1864.5,639.3 1873.0,700.1 1881.0,766.5 1886.5,818.8 1891.8,875.1 1897.2,942.6 1902.2,1013.0 1907.2,1092.8 1913.0,1193.9" stroke="#EDB120"/><path d="M293.0,1610.1 424.5,1613.2 441.0,1613.3 461.5,1613.0 478.5,1612.3 492.0,1611.2 500.0,1610.0 518.2,1606.5 531.2,1604.9 547.0,1603.8 561.2,1603.6 588.8,1604.9 619.5,1607.1 699.8,1615.4 737.8,1618.3 762.2,1619.4 785.8,1619.9 821.2,1619.9 838.8,1619.5 853.0,1618.2 857.2,1617.2 861.8,1615.7 870.0,1612.0 880.2,1606.5 885.5,1603.0 896.8,1594.7 903.0,1591.1 908.0,1589.2 913.2,1587.7 919.8,1586.5 927.0,1585.6 936.0,1585.2 946.5,1585.1 960.0,1585.6 971.5,1586.3 989.8,1588.5 1041.0,1596.0 1066.0,1598.3 1076.0,1598.8 1084.8,1598.7 1092.2,1598.2 1099.8,1597.1 1107.8,1595.4 1114.2,1593.4 1120.5,1590.7 1126.5,1587.3 1131.8,1583.6 1136.2,1579.9 1153.8,1562.8 1163.0,1553.0 1170.5,1543.7 1180.2,1529.8 1189.8,1514.7 1197.5,1499.9 1202.5,1488.7 1204.2,1482.9 1205.8,1472.5 1211.2,1426.3 1215.8,1383.0 1219.8,1338.2 1223.5,1288.9 1229.2,1194.5 1238.0,1015.7 1241.8,947.0 1246.8,872.1 1252.2,807.0 1255.8,772.3 1259.8,737.2 1264.0,704.1 1268.8,670.8 1272.8,652.0 1276.0,640.0 1278.8,631.5 1280.5,627.2 1282.2,624.2 1284.0,622.7 1286.0,622.0 1288.5,622.1 1290.8,623.2 1292.2,625.3 1294.0,629.3 1295.8,634.5 1297.2,640.5 1301.2,662.5 1313.5,758.2 1335.2,944.6 1344.8,1021.7 1356.2,1105.3 1361.8,1141.1 1366.8,1170.9 1371.5,1196.4 1376.5,1220.6 1381.8,1243.3 1387.2,1264.7 1393.2,1285.7 1399.8,1306.2 1406.5,1325.4 1413.2,1342.6 1420.8,1359.4 1428.8,1375.2 1437.0,1389.9 1444.0,1399.7 1453.2,1410.5 1457.0,1414.3 1460.2,1417.0 1464.2,1419.5 1472.0,1423.2 1475.0,1424.2 1477.8,1424.6 1487.2,1423.4 1504.8,1420.0 1507.2,1419.0 1509.8,1417.4 1514.5,1412.9 1518.0,1408.4 1521.2,1403.3 1526.0,1394.9 1532.0,1383.3 1536.8,1373.2 1544.2,1354.5 1549.8,1342.3 1552.8,1337.6 1556.2,1334.2 1558.2,1333.2 1560.2,1332.7 1562.5,1332.8 1564.8,1333.4 1569.2,1335.8 1577.5,1343.2 1582.5,1346.5 1585.0,1347.6 1587.0,1347.9 1588.5,1347.7 1590.0,1346.6 1591.5,1344.5 1592.8,1341.9 1594.5,1335.3 1601.0,1296.7 1603.2,1280.4 1605.8,1247.9 1608.0,1210.2 1612.0,1124.3 1615.0,1032.9 1617.5,927.1 1619.5,814.9 1623.2,563.8 1625.2,462.8 1629.0,332.0 1631.0,277.5 1632.5,252.8 1634.5,235.5 1637.5,221.7 1639.8,214.1 1642.2,207.1 1645.2,199.9 1647.8,195.3 1650.2,191.9 1653.2,188.6 1656.5,185.5 1659.8,183.0 1663.2,181.1 1673.5,176.8 1683.2,170.8 1686.5,169.3 1687.2,169.2 1688.8,169.8 1691.8,171.9 1695.0,175.4 1697.2,179.0 1699.0,183.8 1702.5,196.7 1704.8,208.0 1706.5,230.3 1710.5,260.6 1713.0,287.3 1717.5,328.6 1721.8,377.1 1727.5,455.9 1740.5,655.9 1744.8,710.7 1749.2,759.9 1755.0,811.8 1761.5,858.9 1769.2,905.2 1779.2,956.0 1781.8,964.2 1784.2,969.8 1788.0,974.5 1792.0,977.6 1793.0,978.0 1796.5,974.2 1798.5,970.9 1799.8,966.7 1805.8,936.0 1811.8,900.4 1817.2,863.4 1822.8,822.8 1829.0,772.5 1835.2,717.9 1841.5,659.0 1847.2,600.5 1850.2,587.2 1851.5,583.2 1853.0,579.8 1854.8,576.9 1856.0,575.9 1857.5,575.4 1858.5,575.5 1860.0,576.7 1861.2,580.3 1862.8,589.2 1864.5,613.4 1872.0,664.6 1878.8,716.6 1885.0,771.7 1890.8,830.1 1896.0,892.1 1901.0,960.5 1906.8,1050.0 1913.0,1156.5" stroke="#7E2F8E"/><path d="M293.0,1615.0 425.5,1617.8 441.5,1617.8 462.5,1617.5 479.0,1616.8 492.0,1615.7 500.0,1614.4 518.2,1610.8 530.8,1609.3 546.8,1608.2 561.2,1608.0 589.2,1609.4 620.2,1612.0 704.8,1621.7 741.8,1624.9 766.0,1626.2 789.8,1626.8 819.5,1626.9 838.5,1626.4 853.0,1625.1 857.2,1624.2 861.8,1622.6 870.0,1618.9 880.0,1613.4 885.0,1610.1 896.2,1601.8 903.0,1598.0 908.5,1595.8 914.0,1594.1 921.0,1592.7 928.0,1591.9 936.8,1591.4 947.0,1591.3 960.2,1591.7 971.2,1592.5 984.8,1594.0 1040.5,1601.9 1069.2,1604.7 1078.0,1605.1 1086.2,1604.9 1093.0,1604.4 1100.2,1603.3 1108.0,1601.5 1114.5,1599.4 1120.8,1596.5 1127.0,1592.8 1132.0,1589.2 1136.2,1585.6 1155.8,1566.6 1163.2,1558.6 1169.8,1550.4 1177.8,1538.9 1186.5,1525.0 1192.0,1515.1 1200.0,1499.0 1203.2,1491.1 1204.5,1485.5 1210.2,1438.6 1215.0,1393.9 1219.2,1347.2 1223.2,1295.3 1226.2,1249.6 1229.2,1197.1 1238.0,1018.3 1242.0,945.3 1246.8,874.4 1252.2,809.1 1255.8,774.3 1259.8,739.3 1264.0,706.2 1268.8,672.9 1272.8,653.9 1276.0,641.8 1278.5,633.9 1280.2,629.4 1282.0,626.3 1283.8,624.6 1286.0,623.7 1288.5,623.8 1290.8,624.9 1292.2,627.0 1293.8,630.3 1295.5,635.2 1297.0,641.0 1301.0,662.4 1308.0,715.4 1314.8,769.9 1341.5,998.8 1348.8,1055.4 1356.0,1107.6 1364.8,1164.2 1373.2,1211.2 1377.8,1233.0 1382.5,1254.0 1387.5,1274.1 1392.8,1293.4 1399.5,1315.9 1406.2,1336.1 1412.5,1352.6 1419.0,1367.3 1427.0,1382.8 1436.2,1398.2 1443.2,1407.8 1452.0,1418.1 1458.0,1424.2 1463.5,1428.5 1471.8,1433.5 1474.5,1434.6 1476.8,1435.0 1482.2,1434.6 1495.5,1431.8 1505.2,1430.5 1509.2,1428.5 1513.5,1424.7 1517.8,1419.6 1521.0,1414.7 1533.8,1390.8 1537.2,1382.9 1543.5,1364.5 1548.8,1351.4 1552.2,1344.2 1556.2,1338.2 1558.8,1335.3 1561.0,1333.3 1564.0,1331.2 1567.0,1329.8 1570.2,1329.1 1578.0,1329.6 1586.2,1329.2 1588.2,1328.5 1589.8,1327.6 1592.5,1324.2 1594.5,1319.3 1597.0,1308.8 1603.2,1271.8 1605.8,1247.7 1608.5,1191.8 1611.5,1118.5 1614.0,1040.6 1616.0,961.5 1617.8,875.7 1622.5,579.9 1624.8,463.5 1628.5,325.3 1630.8,260.7 1632.2,235.6 1634.2,214.5 1637.2,197.3 1639.5,187.9 1642.0,179.2 1645.0,170.4 1647.5,164.7 1649.8,161.1 1652.8,157.2 1655.8,153.9 1659.0,151.0 1662.2,149.0 1670.0,145.6 1673.5,143.8 1683.5,135.8 1686.5,134.0 1687.2,133.9 1688.5,134.4 1691.2,136.9 1694.5,141.1 1697.0,145.5 1698.8,150.9 1702.5,166.7 1704.5,177.5 1705.2,185.8 1706.5,207.9 1710.5,240.3 1715.2,285.4 1718.2,316.4 1721.8,357.3 1727.2,431.9 1739.8,620.1 1744.0,674.6 1748.5,723.9 1754.5,778.1 1761.2,827.6 1768.5,871.5 1773.0,895.3 1778.0,919.5 1779.5,928.8 1780.5,931.6 1782.2,934.4 1784.2,936.6 1786.8,938.3 1789.8,939.7 1792.2,940.1 1794.2,939.6 1796.2,938.4 1798.0,936.8 1799.2,935.1 1801.8,929.3 1804.2,920.3 1806.8,908.3 1811.8,879.6 1815.2,855.9 1819.5,824.7 1824.0,787.8 1830.8,725.1 1846.8,562.3 1849.8,538.2 1855.2,501.0 1857.0,495.6 1859.0,491.3 1860.8,489.3 1861.5,489.0 1862.5,489.2 1863.0,489.7 1863.5,494.3 1865.0,502.0 1866.2,510.8 1872.8,546.1 1879.0,585.3 1885.2,631.9 1890.5,679.4 1894.5,722.9 1898.2,771.1 1910.2,947.8 1913.0,992.3" stroke="#77AC30"/><path d="M293.0,1617.7 426.2,1620.4 463.0,1620.0 479.2,1619.4 492.2,1618.2 500.0,1617.0 518.0,1613.3 530.2,1611.8 546.5,1610.6 561.2,1610.4 589.8,1611.9 621.2,1614.4 705.0,1624.0 739.8,1626.9 763.0,1628.2 785.2,1628.9 809.2,1629.1 833.2,1628.7 852.0,1627.2 856.8,1626.3 861.5,1624.7 869.8,1621.0 880.0,1615.4 885.0,1612.1 895.8,1604.1 902.0,1600.4 906.8,1598.3 911.8,1596.6 917.0,1595.3 923.2,1594.2 931.8,1593.4 942.0,1593.1 954.5,1593.3 968.2,1594.0 982.5,1595.5 1045.8,1604.2 1070.8,1606.5 1078.5,1606.9 1086.0,1606.8 1093.5,1606.1 1101.8,1604.8 1108.8,1603.1 1115.0,1600.9 1121.2,1597.9 1127.2,1594.3 1133.0,1590.1 1138.5,1585.1 1163.5,1560.7 1169.0,1554.6 1175.2,1546.8 1187.0,1530.6 1199.0,1511.3 1202.8,1504.6 1204.2,1499.8 1210.5,1449.7 1215.0,1408.9 1219.2,1364.0 1223.0,1317.4 1226.0,1274.1 1229.0,1224.5 1238.0,1051.0 1242.0,981.7 1246.8,913.9 1252.2,850.8 1256.8,807.9 1261.5,768.7 1268.0,722.2 1272.2,696.5 1276.2,678.3 1279.2,667.9 1280.8,664.6 1282.5,661.8 1284.2,660.2 1286.2,659.4 1288.5,659.4 1291.0,660.8 1292.8,663.0 1294.8,666.9 1296.0,670.6 1297.5,676.8 1301.0,695.9 1313.8,790.6 1341.2,1012.1 1348.8,1067.6 1356.0,1117.2 1365.0,1172.8 1373.5,1218.0 1378.0,1238.9 1382.5,1258.0 1387.2,1276.3 1392.5,1294.9 1399.2,1316.4 1406.2,1336.5 1413.0,1353.6 1420.0,1369.0 1427.8,1383.8 1436.8,1398.7 1443.8,1408.2 1452.5,1418.3 1458.5,1424.3 1463.8,1428.4 1471.8,1433.1 1474.5,1434.2 1476.8,1434.7 1482.2,1434.3 1495.5,1431.5 1505.2,1430.2 1509.0,1428.3 1513.0,1424.9 1517.2,1419.9 1520.8,1414.7 1533.5,1391.0 1537.2,1382.5 1543.5,1364.2 1548.8,1351.2 1552.2,1344.0 1556.2,1338.0 1558.8,1335.2 1561.0,1333.2 1563.8,1331.3 1566.8,1329.9 1570.2,1329.2 1578.0,1329.9 1586.0,1329.6 1588.0,1329.1 1589.5,1328.2 1591.0,1326.8 1592.5,1324.6 1594.5,1319.6 1597.0,1309.0 1603.0,1273.9 1605.8,1247.7 1609.0,1183.2 1612.5,1101.1 1615.5,1011.0 1617.5,933.8 1619.2,848.7 1623.2,587.4 1625.2,483.1 1628.2,374.7 1631.0,298.2 1632.0,278.5 1633.8,262.0 1634.8,256.3 1636.2,250.3 1638.2,244.1 1640.8,237.8 1644.0,231.1 1646.8,226.5 1649.2,223.3 1652.5,220.0 1656.0,217.0 1659.8,214.3 1663.8,212.3 1673.8,208.5 1683.5,204.1 1687.0,203.2 1689.8,203.9 1693.8,206.5 1697.0,210.2 1699.0,214.4 1702.0,223.8 1704.0,231.4 1705.0,237.0 1706.5,251.9 1710.5,280.0 1713.0,309.7 1718.0,351.7 1722.2,396.8 1727.8,465.3 1740.2,640.1 1744.5,690.1 1749.0,735.4 1755.2,787.8 1762.5,838.7 1769.5,879.9 1779.8,932.5 1781.0,935.5 1782.8,938.2 1784.8,940.4 1787.5,942.3 1790.5,943.6 1793.0,943.9 1796.2,942.1 1798.0,940.3 1799.2,938.5 1801.8,932.0 1804.2,922.7 1806.8,910.5 1811.8,881.7 1815.5,856.3 1819.8,825.0 1824.0,790.2 1830.8,727.4 1846.8,563.6 1849.2,543.5 1855.2,503.3 1857.2,497.4 1859.0,493.8 1860.8,492.0 1862.2,492.1 1863.0,492.8 1863.5,497.5 1866.2,514.3 1872.8,549.9 1878.5,585.9 1884.8,632.1 1890.2,681.4 1894.2,724.5 1898.2,775.7 1910.2,952.7 1913.0,997.3" stroke="#77AC30"/><path d="M293.0,1619.1 426.5,1621.7 463.2,1621.3 479.5,1620.6 492.2,1619.5 500.0,1618.2 518.0,1614.6 530.2,1613.0 546.2,1611.9 560.8,1611.6 589.2,1613.1 620.8,1615.6 706.2,1625.3 742.0,1628.2 766.0,1629.5 790.0,1630.1 818.0,1630.0 838.0,1629.4 852.8,1628.1 857.0,1627.2 861.5,1625.7 869.8,1622.0 880.0,1616.4 884.8,1613.2 896.2,1604.7 903.2,1600.8 908.8,1598.6 914.5,1596.8 921.5,1595.4 928.2,1594.6 936.8,1594.1 947.0,1594.0 970.8,1595.1 983.2,1596.5 1040.0,1604.4 1070.5,1607.4 1078.8,1607.7 1086.8,1607.6 1093.5,1607.0 1100.2,1606.0 1108.0,1604.2 1114.5,1602.0 1120.8,1599.0 1127.2,1595.1 1132.0,1591.7 1136.2,1588.1 1156.5,1568.3 1163.8,1560.5 1170.0,1552.6 1177.8,1541.2 1186.0,1527.9 1191.8,1517.5 1200.2,1500.4 1203.2,1493.0 1204.5,1487.3 1210.2,1440.2 1215.0,1395.4 1219.2,1348.6 1223.2,1296.6 1226.2,1250.9 1229.2,1198.3 1238.0,1019.5 1242.0,946.5 1246.8,875.5 1252.2,810.2 1255.8,775.3 1259.8,740.3 1264.0,707.2 1268.8,673.9 1272.8,654.8 1276.0,642.7 1278.5,634.8 1280.2,630.3 1282.0,627.1 1283.8,625.4 1286.0,624.6 1288.5,624.7 1290.8,625.8 1292.2,627.8 1294.0,631.8 1295.8,636.9 1297.2,642.9 1301.0,663.2 1308.0,716.2 1314.8,770.6 1341.5,999.3 1348.8,1055.8 1356.0,1107.9 1364.8,1164.5 1373.2,1211.5 1377.8,1233.3 1382.5,1254.3 1387.5,1274.5 1392.8,1293.8 1399.5,1316.3 1406.2,1336.5 1412.5,1352.9 1419.0,1367.7 1427.0,1383.1 1436.2,1398.5 1443.2,1408.1 1452.0,1418.3 1458.0,1424.5 1463.5,1428.8 1471.8,1433.8 1474.5,1434.9 1476.8,1435.4 1482.0,1435.0 1495.5,1432.2 1505.2,1430.9 1509.2,1428.9 1513.5,1425.1 1517.8,1420.0 1521.0,1415.0 1533.8,1391.2 1537.2,1383.2 1543.2,1365.5 1548.5,1352.3 1552.0,1345.0 1556.2,1338.6 1558.8,1335.8 1561.0,1333.8 1564.0,1331.8 1567.0,1330.4 1570.2,1329.8 1578.0,1330.4 1586.2,1330.0 1588.2,1329.4 1589.8,1328.4 1592.5,1325.0 1594.5,1320.0 1597.0,1309.3 1603.0,1274.1 1605.8,1247.7 1608.2,1197.8 1611.5,1121.0 1614.2,1037.1 1616.2,959.2 1618.0,874.6 1623.0,563.9 1625.0,462.7 1628.8,328.0 1630.8,271.7 1632.2,245.3 1634.2,225.4 1637.0,210.6 1639.2,201.7 1641.8,193.6 1645.0,184.8 1647.5,179.6 1649.8,176.2 1652.8,172.5 1656.0,169.2 1659.2,166.5 1662.8,164.4 1673.5,159.6 1683.2,152.7 1686.2,151.0 1687.0,150.8 1688.2,151.2 1691.5,153.7 1695.0,158.0 1697.2,161.9 1699.0,167.2 1702.8,182.1 1704.8,193.2 1706.5,218.7 1711.0,254.7 1717.8,320.4 1721.8,365.7 1727.2,438.7 1740.0,627.6 1744.2,681.0 1748.8,729.2 1754.8,782.3 1761.8,832.8 1768.8,874.8 1773.2,898.5 1778.0,921.5 1779.5,930.7 1780.5,933.5 1782.2,936.5 1784.2,938.8 1786.5,940.5 1789.8,942.1 1792.2,942.6 1793.8,942.3 1796.0,941.0 1797.8,939.4 1799.0,937.8 1801.5,931.8 1804.0,922.9 1806.8,909.8 1811.8,881.0 1815.5,855.6 1819.8,824.2 1824.0,789.4 1830.8,726.6 1846.8,563.0 1849.5,540.8 1855.2,502.2 1857.0,496.8 1859.0,492.6 1860.8,490.6 1861.5,490.4 1862.5,490.7 1863.0,491.2 1863.5,495.9 1866.2,512.5 1873.0,549.5 1879.0,587.3 1885.2,634.0 1890.5,681.6 1894.5,725.2 1898.5,776.9 1910.2,950.3 1913.0,994.8" stroke="#77AC30"/><path d="M293.0,1620.5 426.8,1623.0 463.5,1622.6 479.5,1621.9 492.2,1620.8 500.0,1619.5 518.0,1615.8 530.0,1614.3 546.0,1613.1 560.8,1612.8 589.5,1614.3 621.0,1616.8 706.5,1626.4 742.2,1629.3 766.5,1630.6 790.2,1631.1 817.8,1631.1 838.0,1630.5 853.0,1629.1 857.0,1628.2 861.5,1626.7 869.8,1623.0 880.0,1617.3 884.8,1614.2 896.0,1605.9 903.2,1601.8 909.0,1599.4 914.8,1597.7 921.5,1596.3 928.2,1595.5 936.8,1595.0 947.0,1594.9 970.8,1595.9 982.8,1597.3 1039.8,1605.2 1070.8,1608.3 1078.8,1608.6 1086.8,1608.5 1093.5,1607.9 1100.2,1606.9 1107.8,1605.1 1114.2,1602.9 1120.8,1599.9 1127.2,1596.0 1132.0,1592.5 1136.2,1588.9 1156.5,1569.0 1163.8,1561.1 1170.0,1552.8 1177.8,1540.9 1186.0,1526.8 1191.8,1515.9 1199.5,1499.3 1203.2,1489.5 1204.5,1483.8 1210.2,1436.2 1215.0,1390.6 1219.2,1343.1 1223.2,1290.3 1226.2,1244.0 1229.2,1190.5 1238.0,1008.1 1242.0,933.6 1246.8,861.5 1252.2,795.3 1255.8,760.1 1259.5,726.9 1263.5,695.3 1268.5,659.4 1272.8,640.5 1275.8,630.1 1278.5,621.9 1280.2,617.4 1282.0,614.2 1283.5,612.8 1285.5,611.9 1288.2,611.9 1290.5,612.9 1292.0,614.8 1293.5,618.2 1295.5,624.0 1297.2,630.9 1301.2,652.9 1313.5,749.9 1334.8,934.3 1344.2,1012.3 1355.8,1096.9 1361.2,1133.1 1366.2,1163.0 1371.0,1188.6 1375.8,1211.6 1381.0,1234.3 1386.5,1255.6 1392.5,1276.5 1398.8,1296.1 1405.5,1315.2 1412.5,1333.1 1420.2,1350.8 1428.5,1367.8 1437.0,1383.7 1443.2,1392.8 1452.2,1403.6 1456.5,1408.0 1459.8,1410.7 1463.8,1413.1 1472.2,1416.6 1475.0,1417.5 1477.2,1417.8 1480.8,1417.7 1490.8,1416.4 1503.5,1413.5 1506.2,1412.5 1509.0,1411.0 1511.5,1409.1 1514.0,1406.6 1516.8,1403.2 1519.8,1398.7 1528.5,1383.2 1536.8,1366.1 1550.0,1336.5 1552.8,1332.4 1556.2,1329.2 1558.2,1328.2 1560.0,1327.9 1562.0,1328.2 1564.2,1329.2 1569.0,1332.5 1577.5,1341.7 1582.0,1345.3 1584.5,1346.8 1586.5,1347.4 1588.2,1347.3 1589.8,1346.4 1591.2,1344.5 1592.8,1341.5 1594.5,1335.0 1601.0,1296.4 1603.2,1280.2 1605.8,1247.9 1608.5,1202.7 1611.2,1150.5 1613.5,1099.8 1616.5,1013.7 1619.0,912.0 1620.8,808.8 1623.5,604.3 1625.5,499.0 1628.0,409.3 1631.2,318.5 1632.0,304.3 1633.0,294.8 1634.8,285.9 1637.2,279.4 1640.8,273.3 1646.0,266.6 1651.8,261.4 1659.2,256.3 1666.5,253.0 1678.2,249.8 1686.5,248.4 1689.5,248.7 1692.2,249.3 1694.5,250.4 1696.5,251.9 1698.2,254.0 1699.8,256.8 1703.2,266.3 1705.2,273.8 1708.5,291.4 1710.8,308.5 1713.2,341.9 1718.2,379.6 1723.0,430.9 1728.2,498.3 1741.0,682.6 1745.8,738.8 1751.0,790.5 1754.8,822.0 1759.0,853.5 1763.5,883.0 1768.5,912.4 1773.0,936.2 1779.2,966.9 1783.0,979.6 1784.5,983.0 1786.2,985.8 1790.0,990.3 1793.0,992.6 1796.0,988.8 1798.5,984.2 1799.8,979.2 1808.8,926.9 1814.2,892.1 1819.5,855.9 1822.8,831.2 1826.0,803.0 1831.2,750.2 1841.8,628.3 1847.2,571.5 1851.0,546.7 1855.0,525.8 1857.2,520.6 1859.5,517.7 1860.2,517.5 1861.0,517.8 1862.8,521.1 1864.2,534.2 1873.5,590.3 1880.0,635.1 1885.8,681.5 1890.8,729.1 1895.0,776.9 1899.2,833.0 1910.2,998.9 1913.0,1044.5" stroke="#0072BD"/><path d="M293.0,1622.6 427.2,1625.0 464.0,1624.6 479.8,1623.8 492.2,1622.7 500.0,1621.4 517.8,1617.7 529.5,1616.2 545.5,1615.0 560.5,1614.7 589.2,1616.1 621.2,1618.6 707.2,1628.2 742.8,1631.0 766.8,1632.2 791.0,1632.7 818.8,1632.6 838.5,1631.9 853.0,1630.6 857.0,1629.7 861.5,1628.2 869.5,1624.6 879.8,1618.9 884.5,1615.8 896.0,1607.3 903.2,1603.3 909.0,1600.9 914.8,1599.1 921.5,1597.7 928.5,1596.8 937.0,1596.3 947.0,1596.2 970.8,1597.3 982.2,1598.6 1039.5,1606.4 1071.5,1609.7 1079.2,1610.0 1087.5,1609.8 1094.2,1609.2 1101.2,1608.0 1108.8,1606.2 1115.2,1603.8 1121.8,1600.6 1128.2,1596.5 1136.2,1590.1 1148.2,1578.3 1159.8,1567.4 1165.5,1561.5 1171.0,1555.1 1177.8,1546.3 1185.0,1536.1 1201.0,1510.4 1203.2,1505.9 1204.2,1502.2 1210.8,1449.6 1215.0,1410.9 1219.2,1365.9 1223.0,1319.3 1226.0,1275.9 1229.0,1226.3 1238.0,1053.1 1242.0,983.8 1246.8,915.9 1252.2,852.9 1256.8,810.0 1261.5,770.8 1268.0,724.4 1272.2,698.4 1276.2,680.1 1279.2,669.6 1280.8,666.3 1282.5,663.5 1284.2,661.9 1286.2,661.1 1288.5,661.1 1291.0,662.5 1292.8,664.6 1294.8,668.5 1296.0,672.2 1297.5,678.4 1301.0,697.5 1307.8,746.2 1314.5,797.9 1342.2,1022.6 1349.8,1078.2 1357.2,1129.5 1366.5,1186.6 1375.2,1233.0 1380.0,1255.0 1384.8,1275.2 1389.8,1294.5 1395.0,1313.2 1401.8,1334.9 1408.2,1353.7 1414.2,1368.7 1420.5,1381.9 1428.0,1395.3 1436.2,1407.8 1444.8,1418.8 1455.2,1430.4 1461.5,1436.3 1468.8,1442.0 1473.2,1444.6 1477.2,1445.6 1483.0,1444.9 1495.2,1441.8 1505.8,1441.1 1509.5,1439.1 1513.8,1435.2 1518.0,1430.2 1521.0,1425.7 1534.2,1400.9 1537.2,1393.7 1542.2,1376.9 1544.8,1369.8 1550.0,1358.5 1552.0,1355.2 1554.0,1352.6 1556.5,1350.3 1559.2,1348.6 1562.2,1347.5 1565.5,1346.8 1568.2,1346.8 1570.5,1347.2 1578.2,1350.4 1585.5,1352.0 1587.5,1351.9 1588.8,1351.4 1590.0,1350.3 1591.2,1348.6 1593.0,1344.7 1594.5,1338.5 1602.5,1288.7 1603.2,1282.1 1605.8,1247.9 1609.2,1187.7 1612.0,1124.2 1614.2,1055.7 1616.2,976.6 1618.0,888.3 1622.8,577.1 1624.8,471.3 1628.5,333.0 1630.8,268.9 1632.2,242.9 1634.2,222.7 1637.0,207.6 1639.2,198.5 1641.8,190.2 1645.0,181.2 1647.5,175.9 1649.8,172.4 1652.8,168.6 1656.0,165.3 1659.2,162.5 1662.5,160.6 1673.5,155.7 1683.2,148.5 1686.2,146.8 1687.0,146.6 1688.2,147.0 1691.2,149.3 1695.0,153.9 1697.2,157.9 1699.0,163.4 1702.8,178.6 1704.8,189.8 1706.5,216.0 1710.5,247.6 1716.0,300.7 1721.5,363.4 1727.2,444.9 1740.2,652.1 1744.8,712.3 1749.2,763.2 1755.0,816.4 1761.2,862.3 1769.2,910.1 1779.5,961.8 1782.2,970.7 1784.8,976.2 1789.0,981.4 1791.2,983.4 1793.0,984.4 1795.0,982.3 1797.0,979.4 1798.2,977.2 1799.2,974.4 1806.0,938.3 1811.8,903.8 1817.0,868.8 1821.5,836.0 1825.2,804.1 1831.5,740.0 1842.5,609.8 1847.5,559.8 1851.0,534.1 1855.0,508.9 1856.5,504.1 1858.5,499.8 1860.0,497.8 1860.8,497.4 1861.5,497.4 1862.5,498.1 1863.0,498.9 1863.8,505.6 1866.2,521.2 1872.2,554.4 1877.8,588.9 1884.2,636.6 1890.0,687.9 1894.2,733.7 1898.5,788.3 1910.2,962.4 1913.0,1007.2" stroke="#4DBEEE"/><path d="M293.0,1624.7 427.8,1626.9 464.5,1626.5 480.0,1625.8 492.2,1624.6 500.0,1623.3 517.8,1619.6 529.5,1618.0 545.5,1616.8 560.5,1616.5 589.5,1618.0 621.5,1620.4 707.8,1629.9 742.8,1632.7 766.8,1633.9 791.0,1634.4 818.0,1634.2 838.2,1633.5 853.0,1632.1 857.0,1631.2 861.5,1629.7 869.5,1626.0 879.8,1620.4 884.5,1617.3 895.8,1608.9 903.2,1604.7 909.2,1602.2 915.2,1600.4 922.0,1599.0 928.8,1598.1 937.2,1597.6 947.2,1597.5 970.8,1598.6 981.8,1599.8 1039.0,1607.7 1072.2,1611.0 1079.8,1611.3 1087.8,1611.2 1094.2,1610.5 1101.2,1609.3 1108.8,1607.5 1115.0,1605.2 1121.8,1601.9 1128.2,1597.8 1136.2,1591.4 1148.2,1579.5 1160.2,1568.2 1165.8,1562.6 1171.2,1556.1 1177.8,1547.7 1185.0,1537.6 1201.2,1511.8 1203.2,1507.8 1204.2,1504.1 1210.8,1451.5 1215.0,1412.8 1219.2,1367.9 1223.0,1321.4 1226.0,1278.2 1229.0,1228.8 1238.0,1056.4 1242.0,987.4 1246.8,919.8 1252.2,856.9 1256.5,816.3 1261.2,776.9 1266.8,737.1 1272.2,702.3 1276.2,683.6 1279.2,673.1 1280.8,669.7 1282.5,667.0 1284.2,665.3 1286.2,664.5 1288.5,664.5 1291.0,665.8 1292.8,668.0 1294.8,671.8 1296.0,675.4 1297.5,681.5 1301.0,700.7 1307.8,749.1 1314.5,800.6 1342.2,1024.2 1349.8,1079.5 1357.0,1129.0 1366.2,1186.1 1375.0,1232.7 1379.8,1254.8 1384.5,1275.0 1389.5,1294.5 1394.8,1313.2 1401.5,1335.0 1408.0,1353.9 1414.0,1368.9 1420.2,1382.2 1427.5,1395.2 1435.5,1407.4 1444.0,1418.5 1454.2,1430.0 1460.5,1436.1 1468.0,1442.1 1472.8,1445.0 1476.8,1446.2 1479.0,1446.2 1482.8,1445.6 1495.5,1442.4 1505.5,1441.9 1508.8,1440.3 1512.8,1436.9 1517.5,1431.5 1520.5,1427.2 1534.0,1402.1 1537.2,1394.4 1542.2,1377.5 1544.8,1370.4 1549.8,1359.7 1551.8,1356.3 1554.0,1353.5 1556.5,1351.2 1559.2,1349.7 1562.2,1348.7 1565.5,1348.2 1568.0,1348.2 1570.5,1348.7 1578.2,1352.3 1585.2,1354.0 1587.0,1354.0 1588.5,1353.6 1589.8,1352.7 1591.0,1351.0 1593.0,1346.7 1594.2,1341.6 1602.5,1289.8 1603.2,1283.0 1606.8,1233.2 1610.8,1165.2 1614.0,1093.5 1616.5,1020.6 1618.2,953.5 1619.8,878.0 1623.2,623.2 1625.0,523.3 1627.5,426.5 1631.8,309.6 1632.8,298.2 1634.5,288.7 1637.0,282.0 1641.0,275.2 1647.0,268.1 1650.5,264.9 1654.5,261.9 1662.2,257.4 1666.2,255.7 1671.0,254.2 1680.5,252.0 1687.0,251.3 1690.2,251.6 1692.8,252.3 1695.0,253.4 1697.0,255.1 1698.8,257.4 1700.2,260.4 1703.5,269.5 1705.2,276.0 1708.8,294.6 1710.8,310.2 1713.0,341.5 1718.2,381.2 1723.2,435.2 1728.5,503.1 1741.0,683.7 1745.5,737.2 1750.5,787.0 1754.0,817.0 1758.0,847.4 1762.2,876.2 1767.0,904.9 1772.2,933.4 1779.0,966.7 1782.2,978.4 1785.0,985.1 1789.2,990.7 1791.2,992.7 1793.0,993.9 1795.2,991.2 1797.5,987.5 1798.8,984.6 1799.5,981.7 1808.0,932.1 1813.5,897.7 1819.2,858.5 1824.8,817.2 1830.0,774.1 1835.5,724.6 1842.5,656.3 1847.0,608.5 1848.2,602.4 1850.0,596.0 1851.2,592.5 1852.8,589.9 1854.8,588.0 1856.0,587.6 1857.5,587.7 1859.5,589.0 1860.8,591.9 1862.8,604.3 1864.5,630.6 1872.8,688.8 1880.5,751.8 1886.2,805.4 1891.5,861.0 1896.8,924.6 1901.8,994.2 1907.0,1077.1 1913.0,1181.4" stroke="#0072BD"/><path d="M293.0,1627.5 428.2,1629.5 465.0,1629.1 480.5,1628.3 492.5,1627.1 500.0,1625.9 517.5,1622.1 529.0,1620.5 545.0,1619.3 560.2,1619.0 589.8,1620.4 622.0,1622.8 708.2,1632.2 743.0,1634.9 767.0,1636.1 791.2,1636.5 817.8,1636.3 838.0,1635.5 853.0,1634.1 857.0,1633.2 861.5,1631.7 869.5,1628.0 879.8,1622.4 884.2,1619.4 895.8,1610.9 903.2,1606.7 909.2,1604.2 915.2,1602.3 922.2,1600.8 929.0,1599.9 937.5,1599.4 947.2,1599.3 970.8,1600.4 1038.2,1609.3 1072.8,1612.8 1080.0,1613.1 1088.0,1612.9 1094.2,1612.3 1101.2,1611.1 1108.8,1609.3 1115.0,1607.0 1121.5,1603.7 1128.2,1599.4 1136.0,1593.2 1148.5,1580.8 1160.8,1569.4 1166.0,1564.1 1171.5,1557.6 1184.8,1539.7 1201.5,1513.2 1203.2,1509.7 1204.2,1506.0 1205.0,1498.3 1210.8,1453.2 1215.0,1414.5 1219.2,1369.7 1223.0,1323.2 1226.0,1280.1 1229.0,1230.8 1238.0,1059.1 1242.0,990.2 1246.8,922.7 1252.2,859.9 1256.5,819.3 1261.2,780.0 1266.5,741.9 1272.2,705.2 1276.2,686.3 1279.2,675.7 1280.8,672.3 1282.5,669.5 1284.2,667.9 1286.2,667.0 1288.5,667.1 1291.0,668.4 1292.8,670.5 1294.8,674.2 1296.0,677.8 1297.5,683.9 1301.0,703.1 1307.8,751.4 1314.5,802.6 1342.2,1025.4 1349.8,1080.6 1357.0,1129.9 1366.2,1186.9 1375.0,1233.4 1379.8,1255.6 1384.5,1275.8 1389.5,1295.2 1394.8,1313.9 1401.5,1335.8 1408.0,1354.7 1414.0,1369.7 1420.0,1382.5 1427.2,1395.5 1435.2,1407.7 1444.0,1419.1 1454.2,1430.6 1460.5,1436.6 1468.0,1442.8 1472.8,1445.7 1476.8,1446.9 1479.0,1446.9 1482.8,1446.3 1495.2,1443.1 1505.8,1442.5 1509.0,1440.8 1512.8,1437.6 1517.5,1432.2 1520.5,1427.9 1534.0,1402.9 1537.2,1395.1 1542.2,1378.0 1544.8,1370.9 1549.8,1360.2 1551.8,1356.8 1554.0,1353.8 1556.5,1351.6 1559.2,1349.9 1562.2,1348.8 1565.5,1348.2 1568.0,1348.1 1570.5,1348.4 1578.2,1351.7 1585.5,1353.3 1587.5,1353.1 1588.8,1352.7 1590.0,1351.6 1591.2,1349.8 1593.0,1345.9 1594.5,1339.5 1602.5,1289.3 1603.2,1282.6 1606.5,1236.8 1610.5,1169.1 1613.8,1098.0 1616.2,1026.1 1618.2,949.7 1619.8,873.6 1623.2,620.1 1625.2,509.2 1628.0,408.4 1631.2,317.7 1632.0,303.4 1633.2,292.3 1635.0,284.1 1638.0,276.9 1642.8,269.4 1645.5,266.0 1648.5,262.9 1656.0,257.0 1663.5,252.9 1672.2,250.0 1681.5,247.7 1687.2,247.0 1690.5,247.5 1693.0,248.3 1695.5,249.7 1697.2,251.4 1698.8,253.6 1700.5,257.2 1704.0,267.7 1705.2,272.8 1709.0,293.7 1710.8,307.7 1713.0,338.7 1718.2,378.9 1723.2,433.4 1728.5,501.9 1741.0,683.7 1745.5,737.6 1750.5,787.7 1754.0,817.9 1757.8,846.6 1762.0,875.5 1766.5,903.0 1772.0,933.1 1779.0,967.7 1782.2,979.5 1784.8,985.7 1789.0,991.6 1791.2,993.9 1793.0,995.1 1795.2,992.4 1797.5,988.6 1798.8,985.8 1799.5,982.8 1808.2,931.3 1813.8,896.8 1819.5,857.4 1825.0,816.1 1830.2,772.9 1835.8,723.5 1842.8,655.1 1847.0,609.8 1848.2,603.8 1850.0,597.5 1851.2,594.2 1852.8,591.8 1854.8,590.3 1856.0,589.9 1857.5,590.1 1859.5,591.6 1860.8,594.6 1862.8,607.4 1864.5,634.1 1872.8,692.6 1880.5,755.9 1886.2,809.8 1891.5,865.5 1897.0,932.4 1902.0,1002.5 1907.0,1081.7 1913.0,1186.4" stroke="#0072BD"/><path d="M293.0,1630.9 428.8,1632.8 465.5,1632.3 480.5,1631.5 492.5,1630.3 500.0,1629.0 517.5,1625.2 528.8,1623.6 544.8,1622.4 560.0,1622.0 589.8,1623.4 622.2,1625.7 708.8,1634.5 742.5,1637.0 766.5,1638.0 790.8,1638.3 817.0,1638.0 837.8,1637.1 853.0,1635.6 857.0,1634.7 861.2,1633.3 869.5,1629.5 879.8,1623.8 895.8,1612.3 903.5,1608.1 909.5,1605.5 915.5,1603.6 922.2,1602.1 929.0,1601.3 937.5,1600.7 947.2,1600.6 970.5,1601.7 1037.2,1610.5 1073.0,1614.2 1080.2,1614.5 1088.2,1614.3 1094.5,1613.6 1101.5,1612.4 1108.8,1610.6 1115.2,1608.2 1121.8,1604.8 1128.5,1600.5 1136.0,1594.5 1148.5,1582.0 1161.5,1570.0 1166.5,1564.9 1171.8,1558.7 1184.8,1541.2 1201.5,1515.3 1203.2,1511.9 1204.2,1508.2 1205.0,1500.2 1211.0,1453.2 1215.0,1416.8 1219.2,1372.1 1223.0,1325.8 1229.0,1233.8 1238.0,1063.2 1242.0,994.7 1246.8,927.5 1252.2,864.9 1256.5,824.4 1261.2,785.2 1266.2,748.9 1272.2,710.0 1276.2,690.7 1279.2,680.0 1280.8,676.6 1282.5,673.8 1284.2,672.1 1286.0,671.3 1288.5,671.3 1291.0,672.6 1293.0,675.0 1295.0,678.8 1296.2,682.7 1297.8,689.1 1301.2,708.5 1312.2,788.7 1334.8,966.0 1345.0,1042.6 1357.0,1123.2 1362.8,1157.9 1368.2,1188.3 1373.0,1211.8 1378.0,1234.0 1383.2,1254.8 1388.8,1274.3 1395.0,1294.2 1401.8,1313.6 1408.8,1331.7 1416.0,1348.7 1425.0,1367.6 1435.2,1386.6 1439.8,1393.7 1446.5,1402.5 1455.2,1412.3 1461.0,1417.2 1464.8,1419.4 1472.5,1423.0 1475.5,1424.0 1478.2,1424.3 1488.5,1422.9 1505.0,1419.6 1507.2,1418.6 1509.8,1417.1 1514.5,1412.6 1518.0,1408.0 1521.2,1402.9 1526.0,1394.5 1531.8,1383.4 1536.8,1372.8 1544.5,1353.6 1549.8,1342.1 1552.8,1337.5 1556.2,1334.2 1558.0,1333.2 1560.0,1332.7 1562.0,1332.8 1564.5,1333.5 1569.2,1336.2 1577.8,1344.1 1582.5,1347.3 1585.0,1348.4 1587.0,1348.8 1588.5,1348.5 1590.0,1347.4 1591.5,1345.3 1592.8,1342.7 1594.5,1336.0 1601.0,1297.2 1603.2,1280.8 1605.8,1247.9 1608.0,1210.4 1612.0,1124.6 1615.0,1032.7 1617.5,925.9 1619.5,812.8 1623.2,561.8 1625.2,461.1 1629.0,330.3 1631.0,275.7 1632.5,251.2 1634.5,233.7 1637.5,219.7 1639.8,211.9 1642.2,204.8 1645.2,197.5 1647.8,192.8 1650.2,189.4 1653.2,186.0 1659.5,180.6 1663.0,178.6 1673.5,174.2 1683.0,168.1 1686.0,166.6 1687.0,166.4 1688.0,166.6 1691.2,168.7 1695.0,172.8 1697.2,176.4 1699.0,181.2 1702.5,194.3 1704.8,205.7 1706.5,228.5 1710.5,258.9 1713.0,285.4 1717.5,327.0 1721.8,375.7 1727.5,454.6 1740.2,651.3 1744.8,709.6 1749.2,758.9 1755.0,810.8 1761.5,857.9 1769.2,904.2 1779.5,956.1 1782.2,964.5 1784.8,969.5 1789.2,974.4 1791.2,976.0 1793.0,976.8 1796.5,973.0 1798.0,970.7 1799.0,968.4 1804.5,942.0 1809.5,913.4 1815.0,878.2 1820.5,839.1 1824.8,804.9 1831.8,739.3 1847.2,576.6 1850.8,554.8 1854.8,535.7 1856.0,532.5 1857.5,530.0 1859.2,528.2 1860.5,528.2 1861.8,530.3 1863.0,534.5 1864.2,547.9 1872.2,597.3 1877.2,631.1 1884.0,683.6 1890.0,739.3 1894.8,792.1 1899.2,851.2 1910.0,1014.4 1913.0,1064.5" stroke="#7E2F8E"/><path d="M293.0,1632.3 429.2,1634.1 465.8,1633.6 480.8,1632.8 492.5,1631.6 500.0,1630.3 517.5,1626.4 528.5,1624.9 544.2,1623.6 559.8,1623.2 589.8,1624.6 622.5,1626.9 709.0,1635.7 742.5,1638.1 766.5,1639.1 790.2,1639.4 815.8,1639.0 837.0,1638.1 852.8,1636.6 857.0,1635.7 861.2,1634.3 869.5,1630.5 879.8,1624.8 895.8,1613.3 903.5,1609.0 909.8,1606.4 915.8,1604.5 922.2,1603.0 929.0,1602.2 937.5,1601.6 947.2,1601.5 970.5,1602.5 1036.5,1611.2 1073.2,1615.1 1080.2,1615.4 1088.0,1615.2 1094.2,1614.6 1101.0,1613.4 1108.5,1611.5 1114.8,1609.2 1121.2,1606.0 1128.0,1601.7 1136.0,1595.3 1158.5,1573.3 1164.5,1566.7 1170.0,1559.5 1176.8,1549.3 1184.0,1537.3 1190.0,1526.3 1199.5,1507.1 1202.8,1499.4 1204.2,1494.0 1210.2,1444.0 1215.0,1398.8 1219.2,1351.7 1223.2,1299.4 1226.2,1253.5 1229.2,1200.8 1238.0,1021.6 1242.0,948.2 1246.8,876.9 1252.2,811.3 1255.8,776.4 1259.8,741.3 1264.0,708.3 1268.8,675.0 1272.8,655.8 1276.0,643.6 1278.5,635.6 1280.2,631.1 1282.0,628.0 1283.8,626.3 1286.0,625.4 1288.5,625.5 1290.8,626.6 1292.2,628.7 1294.0,632.6 1295.8,637.7 1297.2,643.7 1301.0,664.0 1308.2,718.9 1315.2,775.5 1342.2,1007.5 1349.5,1064.3 1356.8,1116.5 1365.8,1174.8 1374.5,1223.3 1379.2,1246.5 1384.0,1267.6 1389.2,1289.0 1394.5,1308.5 1401.0,1330.6 1407.5,1350.3 1413.2,1365.4 1419.2,1378.7 1426.8,1392.6 1435.0,1405.4 1443.2,1416.4 1453.2,1427.8 1459.8,1434.2 1467.0,1440.1 1472.2,1443.4 1474.5,1444.4 1476.8,1444.8 1479.0,1444.9 1482.8,1444.3 1495.5,1441.2 1503.5,1440.8 1505.8,1440.4 1509.2,1438.6 1513.2,1435.0 1517.8,1429.8 1520.8,1425.4 1534.5,1399.7 1537.5,1392.3 1542.5,1375.4 1544.8,1369.0 1550.5,1355.6 1552.8,1351.5 1555.2,1347.7 1558.0,1344.3 1561.0,1341.3 1564.2,1338.7 1567.5,1336.8 1571.0,1335.6 1578.0,1335.1 1587.0,1333.7 1588.5,1333.1 1590.0,1332.0 1592.5,1328.6 1594.5,1323.1 1597.0,1311.6 1603.0,1275.9 1605.8,1247.7 1609.0,1185.2 1612.5,1103.8 1615.2,1021.7 1617.2,945.3 1619.0,861.2 1623.2,584.5 1625.2,480.5 1628.2,372.1 1631.0,295.6 1632.0,276.1 1633.8,259.4 1634.8,253.5 1636.2,247.3 1638.2,240.9 1640.8,234.5 1644.0,227.6 1646.8,222.8 1649.2,219.6 1652.5,216.1 1656.0,213.1 1659.8,210.4 1663.5,208.5 1673.8,204.5 1684.2,199.6 1687.0,198.9 1690.2,200.0 1694.0,202.7 1697.0,206.2 1699.0,210.6 1702.0,220.2 1704.0,227.9 1705.0,233.6 1706.5,249.2 1710.5,277.6 1713.0,306.9 1718.0,349.6 1722.0,392.7 1727.8,465.7 1740.2,644.7 1744.5,695.9 1749.0,742.2 1755.2,795.6 1762.2,845.0 1769.2,886.4 1779.5,939.1 1780.8,942.8 1782.2,945.8 1784.0,948.4 1785.8,950.3 1788.8,952.5 1791.8,953.8 1793.0,954.0 1795.0,952.8 1798.0,949.7 1799.8,946.1 1803.2,933.4 1806.5,917.7 1811.8,887.2 1815.8,860.3 1820.2,827.2 1824.5,792.4 1830.8,734.1 1843.0,606.4 1848.0,558.6 1851.2,535.8 1855.0,513.4 1856.5,508.9 1858.5,504.8 1860.0,503.1 1861.2,502.9 1862.5,504.1 1863.0,505.1 1863.8,512.2 1866.2,528.1 1872.2,561.9 1877.5,595.2 1884.2,645.1 1890.0,696.8 1894.2,742.8 1898.5,797.4 1910.2,972.1 1913.0,1017.2" stroke="#4DBEEE"/><path d="M293.0,1633.0 429.2,1634.8 465.8,1634.2 480.8,1633.4 492.5,1632.3 500.0,1630.9 517.2,1627.1 528.5,1625.5 544.2,1624.2 559.8,1623.8 589.8,1625.2 622.8,1627.5 709.0,1636.3 742.5,1638.7 766.5,1639.6 790.8,1639.9 816.2,1639.6 837.2,1638.6 852.8,1637.1 857.0,1636.2 861.2,1634.8 869.5,1631.0 879.8,1625.3 895.8,1613.8 903.5,1609.5 909.8,1606.9 915.8,1604.9 922.2,1603.5 929.0,1602.6 937.5,1602.1 947.2,1602.0 970.5,1603.0 1036.0,1611.6 1073.5,1615.5 1080.5,1615.8 1088.2,1615.6 1094.5,1615.0 1101.2,1613.8 1108.5,1612.0 1114.8,1609.7 1121.5,1606.3 1128.2,1601.9 1135.8,1595.9 1148.2,1583.5 1161.0,1571.6 1166.0,1566.4 1171.5,1559.7 1177.8,1551.3 1184.5,1541.5 1201.2,1514.1 1203.2,1510.1 1204.2,1506.3 1205.0,1498.4 1210.8,1452.9 1215.0,1413.9 1219.2,1368.7 1223.0,1321.9 1226.0,1278.5 1229.0,1228.9 1238.0,1055.7 1242.0,986.3 1246.8,918.2 1252.2,855.0 1256.8,812.0 1261.5,772.9 1267.8,728.2 1272.2,700.3 1276.2,681.8 1279.2,671.4 1280.8,668.0 1282.5,665.2 1284.2,663.6 1286.2,662.8 1288.5,662.8 1291.0,664.1 1292.8,666.3 1294.8,670.2 1296.0,673.8 1297.5,680.0 1301.0,699.1 1307.8,747.6 1314.5,799.2 1342.2,1023.4 1349.8,1078.9 1357.0,1128.4 1366.2,1185.6 1375.0,1232.2 1379.8,1254.4 1384.5,1274.6 1389.5,1294.0 1394.8,1312.7 1401.5,1334.6 1408.0,1353.5 1414.0,1368.5 1420.2,1381.8 1427.5,1394.9 1435.8,1407.4 1444.2,1418.5 1454.5,1429.9 1460.5,1435.8 1468.0,1441.8 1472.8,1444.7 1476.8,1445.9 1479.0,1445.9 1482.8,1445.3 1495.2,1442.2 1505.8,1441.5 1509.0,1439.8 1513.0,1436.3 1517.8,1430.9 1520.8,1426.5 1534.5,1400.8 1537.5,1393.3 1542.5,1376.3 1544.8,1369.8 1550.5,1356.5 1552.8,1352.3 1555.2,1348.5 1558.0,1345.2 1561.0,1342.1 1564.2,1339.5 1567.5,1337.5 1571.2,1336.2 1578.0,1335.6 1587.2,1334.0 1590.0,1332.4 1592.5,1329.0 1594.5,1323.5 1597.0,1311.8 1603.0,1276.1 1605.8,1247.7 1609.2,1180.6 1612.8,1099.3 1615.5,1017.4 1617.5,941.1 1619.2,856.4 1623.2,591.7 1625.2,486.4 1628.2,378.1 1631.0,301.7 1632.0,281.8 1633.8,265.5 1636.0,255.0 1638.0,248.9 1640.5,242.8 1643.8,236.3 1646.5,231.8 1649.0,228.6 1652.5,225.1 1656.0,222.1 1659.8,219.5 1664.2,217.3 1673.8,213.8 1682.8,210.0 1687.0,208.8 1689.0,209.3 1691.2,210.3 1693.8,212.0 1696.0,214.1 1697.5,216.3 1698.8,218.9 1702.2,229.4 1704.5,238.5 1706.5,255.5 1709.8,277.0 1711.0,288.5 1713.0,313.4 1718.2,357.9 1723.2,414.8 1728.2,482.3 1740.2,661.4 1744.5,715.0 1749.0,763.1 1755.2,818.1 1762.0,866.1 1770.0,913.2 1779.8,961.8 1782.5,970.3 1784.8,975.1 1789.0,980.2 1791.2,982.2 1793.0,983.1 1795.0,981.1 1797.0,978.3 1798.2,976.1 1799.2,973.3 1806.0,937.6 1811.8,903.1 1817.0,868.1 1821.5,835.2 1825.2,803.4 1830.5,750.9 1842.0,616.6 1847.5,561.1 1851.0,535.8 1855.0,511.1 1856.5,506.5 1858.2,502.7 1859.8,500.6 1860.5,500.2 1861.2,500.1 1862.5,501.1 1863.0,502.0 1863.8,508.9 1866.2,524.6 1872.2,558.2 1877.5,591.2 1884.2,640.9 1890.0,692.3 1894.2,738.2 1898.5,792.8 1910.2,967.3 1913.0,1012.2" stroke="#4DBEEE"/><path d="M293.0,1634.4 429.2,1636.1 466.0,1635.5 480.8,1634.7 492.5,1633.5 500.0,1632.2 517.2,1628.3 528.2,1626.8 544.2,1625.5 559.8,1625.1 590.0,1626.4 622.8,1628.7 709.5,1637.4 742.5,1639.8 766.5,1640.7 790.2,1641.0 815.2,1640.6 836.5,1639.7 852.8,1638.1 856.8,1637.3 861.0,1635.9 869.2,1632.1 879.5,1626.4 883.8,1623.6 895.5,1614.9 903.5,1610.5 909.8,1607.8 915.8,1605.9 922.5,1604.4 929.2,1603.5 937.5,1603.0 947.2,1602.9 970.5,1603.9 1035.2,1612.4 1073.8,1616.4 1080.8,1616.7 1088.2,1616.5 1094.2,1615.9 1101.0,1614.7 1108.2,1612.9 1114.5,1610.7 1121.2,1607.2 1128.0,1602.9 1136.0,1596.5 1158.8,1574.3 1164.5,1568.0 1170.0,1560.8 1176.5,1551.0 1183.8,1538.9 1189.8,1527.9 1199.8,1507.8 1202.8,1500.8 1204.2,1495.3 1210.2,1445.2 1215.0,1400.0 1219.2,1352.9 1223.2,1300.6 1226.2,1254.8 1229.2,1202.2 1238.0,1023.4 1242.0,950.1 1246.8,878.9 1252.2,813.3 1255.8,778.4 1259.8,743.4 1264.0,710.4 1268.8,677.1 1272.8,657.7 1276.0,645.4 1278.5,637.4 1280.2,632.9 1282.0,629.7 1283.8,628.0 1286.0,627.1 1288.5,627.2 1290.8,628.3 1292.2,630.3 1294.0,634.2 1295.8,639.3 1297.2,645.3 1301.0,665.6 1308.2,720.3 1315.2,776.8 1342.5,1010.3 1349.8,1066.8 1357.0,1118.8 1366.0,1176.8 1374.8,1225.1 1379.2,1246.9 1384.2,1269.1 1389.5,1290.4 1394.8,1309.9 1401.2,1331.8 1407.8,1351.4 1413.5,1366.4 1419.5,1379.6 1427.0,1393.3 1435.2,1406.1 1443.8,1417.3 1453.8,1428.6 1460.0,1434.7 1467.5,1440.8 1472.5,1443.9 1476.8,1445.2 1479.0,1445.2 1482.8,1444.6 1495.5,1441.5 1503.5,1441.1 1505.8,1440.8 1509.2,1438.9 1513.2,1435.4 1517.8,1430.1 1520.8,1425.7 1534.5,1400.0 1537.5,1392.6 1542.5,1375.7 1544.8,1369.3 1550.5,1355.9 1552.8,1351.7 1555.2,1347.9 1558.0,1344.5 1561.0,1341.4 1564.2,1338.8 1567.5,1336.7 1571.0,1335.5 1578.0,1334.8 1587.2,1333.2 1590.0,1331.6 1592.5,1328.2 1594.5,1322.8 1597.0,1311.3 1603.0,1275.7 1605.8,1247.7 1609.0,1184.7 1612.5,1102.4 1615.2,1018.7 1617.2,940.7 1619.0,854.9 1623.2,579.4 1625.0,487.4 1628.0,375.5 1631.0,291.3 1632.0,272.1 1633.8,255.0 1634.8,248.9 1636.2,242.4 1638.5,235.0 1641.0,228.3 1644.5,220.6 1647.0,216.3 1649.5,213.0 1652.8,209.5 1656.2,206.4 1659.8,203.9 1663.8,201.8 1674.0,197.8 1684.5,192.5 1687.2,191.9 1690.2,193.0 1694.0,195.9 1697.0,199.6 1699.0,204.2 1702.2,215.0 1704.0,222.1 1705.0,228.1 1706.5,244.7 1710.5,273.5 1713.0,302.2 1718.0,345.7 1722.0,389.2 1727.5,459.4 1740.2,642.9 1744.5,694.4 1749.0,741.0 1755.0,792.6 1762.0,842.4 1769.2,885.5 1778.0,929.4 1779.5,938.2 1780.8,941.8 1782.2,944.8 1784.0,947.3 1785.8,949.1 1788.8,951.3 1791.8,952.5 1793.0,952.7 1795.2,951.4 1798.2,948.1 1799.8,945.0 1803.2,932.6 1806.5,917.0 1811.8,886.5 1815.8,859.6 1820.2,826.4 1824.5,791.3 1831.0,729.5 1844.0,591.6 1846.8,564.3 1848.8,548.0 1855.0,505.5 1856.8,499.9 1858.8,495.5 1860.5,493.5 1861.2,493.2 1862.0,493.4 1863.0,494.3 1863.5,499.1 1866.2,516.0 1872.5,550.3 1878.2,586.3 1884.8,634.2 1890.2,683.6 1894.5,729.8 1898.5,781.4 1910.2,955.1 1913.0,999.8" stroke="#4DBEEE"/><path d="M293.0,1601.1 345.0,1602.7 421.8,1604.6 439.5,1604.8 459.0,1604.6 477.2,1604.0 491.8,1602.9 500.0,1601.8 518.8,1598.3 533.0,1596.8 548.8,1595.8 562.2,1595.7 589.0,1597.2 619.0,1599.7 697.2,1609.1 717.0,1611.1 738.0,1612.8 761.8,1614.2 784.5,1615.1 810.0,1615.5 837.0,1615.4 852.8,1614.1 857.5,1613.1 862.8,1611.3 871.0,1607.6 881.0,1602.1 886.0,1598.8 896.5,1591.0 901.8,1587.8 909.5,1584.8 919.2,1582.9 928.2,1581.9 939.0,1581.5 952.2,1581.7 967.5,1582.5 989.0,1584.8 1046.0,1593.1 1069.2,1595.0 1078.0,1595.2 1086.2,1595.1 1094.5,1594.4 1103.2,1592.9 1110.8,1591.0 1117.2,1588.7 1123.5,1585.7 1129.5,1581.9 1135.0,1577.7 1141.0,1572.2 1156.0,1557.3 1164.0,1548.8 1171.8,1539.3 1180.8,1527.0 1189.8,1513.6 1197.0,1500.6 1202.5,1489.0 1203.8,1485.5 1204.5,1481.9 1210.0,1438.5 1215.0,1392.6 1219.2,1346.8 1223.2,1295.7 1226.2,1250.7 1229.2,1198.9 1238.0,1022.8 1241.8,955.1 1246.8,881.3 1252.2,816.9 1255.8,782.4 1259.8,747.5 1264.0,714.5 1268.8,681.4 1272.8,661.5 1276.0,648.9 1278.5,640.8 1280.2,636.3 1282.0,633.2 1283.8,631.4 1286.0,630.5 1288.5,630.6 1290.8,631.7 1292.5,634.1 1294.2,638.1 1295.8,642.5 1297.2,648.5 1301.0,668.8 1314.0,769.2 1340.8,994.1 1348.0,1050.0 1355.2,1101.5 1364.0,1157.5 1372.2,1202.7 1376.8,1224.2 1381.2,1243.7 1386.0,1262.5 1391.0,1280.5 1397.8,1302.5 1405.0,1323.7 1412.0,1341.9 1419.2,1358.4 1427.2,1374.4 1436.8,1391.3 1443.0,1400.1 1451.5,1410.3 1457.5,1416.5 1462.2,1420.1 1472.2,1425.3 1474.8,1426.2 1477.0,1426.6 1479.8,1426.5 1484.5,1425.9 1504.5,1422.1 1506.8,1421.3 1509.0,1420.0 1513.5,1416.1 1517.2,1411.5 1520.8,1406.2 1525.5,1397.9 1532.0,1385.4 1537.2,1374.1 1550.0,1341.4 1553.5,1334.7 1557.5,1328.8 1559.8,1326.2 1561.8,1324.5 1564.2,1323.0 1567.0,1321.8 1569.8,1321.3 1577.5,1322.0 1582.8,1322.0 1586.0,1321.7 1588.0,1321.1 1589.8,1320.1 1591.2,1318.7 1592.8,1316.7 1595.0,1311.6 1597.2,1303.0 1603.5,1266.6 1605.8,1247.6 1608.2,1194.0 1611.2,1119.3 1614.0,1032.4 1617.5,879.4 1622.5,574.6 1625.0,449.0 1628.8,314.2 1630.8,257.0 1632.2,232.4 1634.2,210.9 1637.2,193.3 1639.5,183.6 1642.0,174.7 1645.0,165.5 1647.5,159.8 1649.8,156.1 1652.8,152.0 1655.8,148.7 1659.0,145.8 1662.2,143.7 1669.8,140.5 1673.2,138.6 1676.5,136.2 1683.5,130.2 1686.8,128.2 1687.5,128.3 1688.8,129.0 1691.8,131.9 1695.5,137.3 1697.2,140.8 1698.8,145.7 1702.8,163.0 1704.5,172.9 1705.2,181.4 1706.5,204.3 1710.8,239.3 1715.0,279.4 1721.8,354.1 1727.0,424.7 1739.8,615.3 1744.0,669.4 1748.5,718.4 1754.5,772.2 1761.2,821.6 1768.2,864.2 1773.0,889.4 1778.0,913.5 1779.2,922.1 1780.0,924.7 1781.2,927.0 1783.0,928.9 1785.2,930.6 1788.0,931.9 1790.5,932.5 1793.0,932.5 1795.0,931.9 1796.8,930.9 1798.2,929.5 1801.0,925.5 1803.0,920.1 1805.2,911.2 1812.0,874.0 1818.8,826.0 1839.5,660.9 1843.2,627.7 1847.2,587.6 1851.0,567.8 1854.8,554.6 1856.0,552.4 1857.8,550.7 1859.2,550.1 1860.5,551.0 1861.5,553.5 1862.8,558.9 1864.2,577.0 1872.5,630.8 1878.5,674.4 1884.8,726.4 1890.5,782.6 1895.2,837.0 1900.0,900.6 1909.8,1051.5 1913.0,1106.8" stroke="#A2142F"/><path d="M293.0,1603.2 344.8,1604.8 422.5,1606.6 440.0,1606.8 459.5,1606.5 477.8,1605.9 491.8,1604.8 500.0,1603.7 518.8,1600.2 532.8,1598.6 548.5,1597.7 562.2,1597.6 589.0,1599.1 619.2,1601.6 699.0,1611.2 718.0,1613.1 738.8,1614.8 762.5,1616.3 785.0,1617.1 810.0,1617.5 836.5,1617.4 852.8,1616.1 857.5,1615.1 862.5,1613.4 870.8,1609.7 880.8,1604.2 886.0,1600.7 896.5,1592.9 901.8,1589.8 905.8,1588.0 910.0,1586.6 920.2,1584.6 929.0,1583.7 939.8,1583.3 953.0,1583.5 967.8,1584.2 987.8,1586.4 1046.0,1594.8 1069.5,1596.8 1078.0,1597.0 1086.0,1596.9 1094.2,1596.2 1102.8,1594.8 1110.2,1592.9 1116.8,1590.7 1123.0,1587.7 1129.0,1583.9 1134.8,1579.6 1140.5,1574.3 1156.0,1559.0 1163.2,1551.3 1170.2,1543.0 1178.2,1532.3 1187.8,1518.6 1193.0,1509.8 1201.0,1494.6 1203.2,1489.2 1204.2,1485.7 1209.8,1442.7 1214.8,1397.2 1219.0,1351.9 1223.0,1301.4 1226.0,1257.1 1229.0,1206.1 1238.0,1026.2 1242.0,954.6 1247.0,881.9 1252.5,818.3 1256.0,784.2 1260.0,749.6 1264.2,716.9 1269.0,684.2 1272.8,665.3 1276.0,652.5 1278.5,644.3 1280.2,639.7 1282.2,636.3 1284.2,634.6 1286.2,633.9 1288.8,634.1 1291.0,635.3 1292.8,638.0 1294.5,642.0 1296.0,646.6 1297.5,652.8 1301.0,672.0 1314.0,772.0 1341.0,997.9 1348.2,1053.5 1355.5,1104.7 1364.2,1160.4 1372.5,1205.4 1377.0,1226.8 1381.5,1246.3 1386.2,1265.0 1391.2,1283.1 1398.0,1305.1 1405.2,1326.3 1412.0,1343.8 1419.0,1359.8 1427.0,1375.7 1436.8,1392.8 1443.0,1401.6 1451.5,1411.7 1457.5,1417.9 1462.2,1421.6 1472.0,1426.9 1474.5,1427.8 1476.8,1428.3 1479.2,1428.3 1483.5,1427.7 1504.8,1423.8 1509.0,1421.7 1513.2,1418.1 1517.0,1413.6 1520.5,1408.4 1525.2,1400.1 1532.2,1386.7 1537.2,1375.9 1544.0,1357.7 1549.8,1343.5 1553.0,1337.1 1557.2,1330.8 1561.5,1326.6 1564.0,1325.0 1566.8,1323.8 1569.8,1323.2 1577.8,1324.0 1582.8,1324.1 1586.0,1323.8 1588.0,1323.2 1589.8,1322.1 1591.2,1320.7 1592.8,1318.7 1594.8,1314.0 1597.0,1305.4 1603.2,1269.4 1605.8,1247.6 1608.2,1195.4 1611.8,1110.3 1614.5,1024.9 1618.2,861.7 1623.0,568.9 1625.0,467.0 1628.5,339.8 1630.8,276.2 1632.2,249.4 1634.2,229.9 1637.0,215.6 1639.2,207.1 1641.8,199.3 1645.0,190.8 1647.5,185.8 1649.8,182.5 1652.8,178.9 1656.0,175.6 1659.2,173.0 1662.8,170.9 1673.5,166.3 1683.2,159.6 1686.5,158.0 1687.2,157.9 1688.8,158.5 1691.8,160.9 1695.2,165.0 1697.2,168.5 1699.0,173.6 1702.5,187.1 1704.8,198.9 1706.5,223.1 1710.8,256.4 1718.0,326.7 1722.0,371.5 1727.5,443.2 1739.8,621.0 1744.0,673.4 1748.5,721.0 1754.5,773.6 1761.5,824.3 1768.5,866.5 1773.0,890.4 1778.0,914.5 1779.2,923.0 1780.0,925.6 1781.2,928.0 1783.0,930.0 1785.2,931.7 1788.0,933.1 1790.5,933.7 1793.0,933.7 1795.0,933.1 1796.8,932.1 1798.2,930.7 1800.8,927.0 1803.0,921.0 1805.2,912.0 1812.0,874.6 1818.5,828.6 1839.5,663.9 1843.2,631.0 1847.2,590.8 1850.8,573.0 1854.5,560.8 1855.8,558.6 1857.5,557.0 1859.2,556.5 1860.2,557.2 1861.2,559.6 1862.8,566.5 1864.2,585.6 1872.2,638.4 1878.2,682.5 1884.8,737.2 1890.5,793.8 1895.5,851.5 1900.2,915.6 1906.8,1015.5 1913.0,1119.2" stroke="#A2142F"/><path d="M293.0,1604.6 344.2,1606.1 422.8,1607.9 440.2,1608.1 459.8,1607.8 477.8,1607.2 491.8,1606.1 500.0,1604.9 518.8,1601.4 532.5,1599.9 548.2,1598.9 562.2,1598.8 589.2,1600.4 619.5,1603.0 700.5,1613.0 739.8,1616.7 763.2,1618.2 785.8,1619.1 810.2,1619.5 836.0,1619.4 852.5,1618.2 857.2,1617.2 862.2,1615.5 870.5,1611.8 880.5,1606.3 885.8,1602.9 896.5,1594.8 902.0,1591.6 906.2,1589.8 910.8,1588.3 921.5,1586.2 930.2,1585.4 941.0,1585.1 954.0,1585.3 968.2,1586.0 986.8,1588.1 1046.0,1596.5 1069.5,1598.5 1078.0,1598.8 1085.8,1598.7 1093.8,1598.0 1102.0,1596.7 1109.5,1594.9 1116.0,1592.7 1122.0,1589.9 1128.0,1586.3 1133.8,1582.0 1139.5,1576.9 1163.8,1552.8 1170.2,1545.3 1177.8,1535.7 1187.2,1522.6 1192.5,1514.3 1201.2,1499.0 1203.2,1494.6 1204.2,1491.1 1210.0,1446.1 1214.8,1403.3 1219.0,1358.6 1223.0,1308.9 1226.0,1265.2 1229.0,1215.0 1238.0,1038.9 1242.0,968.7 1247.0,897.0 1252.5,834.2 1257.0,791.4 1262.0,750.3 1268.2,705.7 1272.0,684.3 1276.0,666.8 1279.5,655.2 1281.0,652.0 1282.5,649.7 1284.2,648.2 1286.2,647.5 1288.5,647.6 1291.0,648.9 1292.8,651.3 1294.8,655.6 1297.5,665.6 1301.0,684.7 1308.0,736.2 1314.8,789.0 1342.0,1014.4 1349.5,1071.1 1356.8,1121.7 1366.0,1179.8 1374.5,1225.6 1379.0,1247.0 1383.8,1267.6 1388.8,1287.4 1394.0,1306.4 1400.8,1328.6 1407.2,1347.8 1413.2,1363.3 1419.5,1377.0 1427.0,1390.9 1435.5,1404.3 1443.2,1414.6 1452.8,1425.5 1459.2,1432.0 1466.0,1437.4 1472.0,1441.3 1474.2,1442.2 1476.5,1442.8 1478.8,1442.8 1482.8,1442.2 1495.5,1439.2 1505.5,1438.4 1508.8,1436.8 1512.5,1433.7 1517.2,1428.3 1520.5,1423.7 1534.0,1398.6 1537.2,1390.9 1542.5,1373.8 1545.0,1367.0 1550.2,1355.3 1552.5,1351.5 1554.8,1348.5 1557.2,1345.9 1560.0,1343.9 1563.0,1342.3 1566.2,1341.3 1568.5,1340.9 1570.5,1341.0 1578.2,1343.1 1585.8,1343.8 1587.8,1343.4 1589.0,1342.8 1591.5,1340.0 1593.2,1336.2 1594.8,1330.3 1602.5,1284.4 1603.2,1278.3 1605.8,1247.9 1610.0,1172.2 1613.5,1093.6 1616.2,1012.9 1618.2,935.3 1619.8,859.4 1623.2,612.5 1625.2,503.3 1628.0,402.5 1631.2,311.9 1632.0,297.8 1633.5,284.7 1634.5,279.5 1635.8,275.2 1637.8,270.2 1640.0,265.8 1642.8,261.3 1646.0,256.9 1648.8,253.9 1652.5,250.6 1656.5,247.6 1660.5,245.2 1667.5,242.2 1681.2,238.1 1687.0,237.1 1691.5,238.0 1693.8,239.1 1696.0,240.8 1697.5,242.5 1698.8,244.6 1702.0,252.7 1704.8,262.5 1709.5,291.4 1711.0,304.9 1713.0,332.1 1718.2,373.0 1723.5,428.8 1728.5,492.0 1740.5,659.9 1745.0,712.4 1749.8,759.2 1757.0,817.9 1761.0,845.7 1765.2,872.5 1770.8,903.4 1779.2,946.6 1780.8,951.5 1782.8,956.2 1785.2,960.0 1788.8,963.2 1792.5,965.3 1793.0,965.4 1794.0,964.7 1796.8,961.9 1799.0,958.2 1803.2,940.9 1806.8,923.0 1811.8,893.5 1819.8,837.8 1838.5,693.2 1843.0,653.4 1847.2,609.5 1850.2,598.4 1851.5,595.4 1852.8,593.7 1854.5,592.6 1856.0,592.3 1857.5,592.6 1859.5,594.2 1860.8,597.3 1862.8,610.4 1864.5,637.5 1872.8,696.3 1880.5,760.0 1886.2,814.1 1891.5,870.0 1897.0,937.0 1902.0,1007.0 1907.0,1086.3 1913.0,1191.4" stroke="#A2142F"/><path d="M293.0,1606.6 423.5,1609.9 440.5,1610.0 460.5,1609.7 478.2,1609.1 492.0,1608.0 500.0,1606.8 518.8,1603.3 532.2,1601.8 548.0,1600.7 562.0,1600.6 589.2,1602.2 619.8,1604.8 701.5,1614.8 739.8,1618.4 763.2,1619.9 785.8,1620.7 810.2,1621.1 835.8,1620.9 852.5,1619.7 857.2,1618.7 862.2,1617.0 870.5,1613.2 880.5,1607.8 885.5,1604.5 896.2,1596.5 902.0,1593.1 906.2,1591.2 910.8,1589.8 921.5,1587.6 930.2,1586.7 940.8,1586.4 953.8,1586.6 968.0,1587.3 985.8,1589.3 1046.0,1597.8 1070.0,1599.9 1078.2,1600.2 1086.2,1600.0 1094.2,1599.3 1102.8,1597.9 1110.2,1596.0 1116.5,1593.8 1122.8,1590.8 1128.8,1587.0 1134.2,1582.9 1140.0,1577.6 1163.0,1554.6 1169.5,1546.9 1177.0,1537.0 1186.8,1522.9 1192.2,1513.8 1201.0,1497.5 1203.2,1492.3 1204.2,1488.6 1210.0,1443.2 1214.8,1399.8 1219.0,1354.5 1223.0,1304.1 1226.0,1259.9 1229.0,1209.0 1238.0,1029.8 1242.0,958.5 1247.0,885.8 1252.5,822.3 1256.2,785.9 1260.2,751.7 1264.8,717.4 1269.2,687.1 1273.0,668.1 1276.2,655.2 1278.8,647.0 1280.5,642.7 1282.2,639.7 1284.2,638.0 1286.2,637.3 1288.5,637.4 1291.0,638.7 1292.8,641.3 1294.5,645.3 1296.0,649.8 1297.5,656.0 1301.0,675.2 1314.0,774.7 1341.0,999.7 1348.2,1055.1 1355.5,1106.2 1364.2,1161.9 1372.5,1206.9 1377.0,1228.4 1381.5,1247.9 1386.2,1266.7 1391.2,1284.8 1398.0,1306.9 1405.2,1328.2 1411.8,1345.1 1418.8,1361.1 1426.8,1377.0 1436.2,1393.6 1442.5,1402.4 1451.0,1412.6 1457.2,1419.1 1462.2,1423.1 1471.8,1428.4 1474.2,1429.4 1476.5,1429.9 1479.0,1430.0 1483.0,1429.5 1504.8,1425.5 1508.8,1423.6 1512.8,1420.3 1516.8,1415.7 1520.5,1410.2 1525.2,1401.8 1532.5,1388.0 1537.2,1377.6 1543.8,1359.7 1549.5,1345.5 1552.8,1339.0 1557.0,1332.6 1559.2,1330.1 1561.5,1328.1 1564.0,1326.5 1566.8,1325.2 1569.8,1324.6 1577.8,1325.3 1586.0,1325.0 1588.2,1324.3 1589.8,1323.4 1591.2,1322.0 1592.8,1319.9 1594.8,1315.0 1597.0,1306.2 1603.2,1269.9 1605.8,1247.6 1609.2,1176.5 1613.2,1082.0 1616.2,992.4 1618.2,915.3 1619.8,841.7 1623.5,589.8 1625.2,498.2 1628.0,397.5 1631.2,306.9 1632.0,293.0 1633.5,279.5 1634.5,274.0 1635.8,269.4 1637.8,264.0 1640.2,258.7 1643.2,253.6 1646.2,249.2 1649.0,246.2 1652.5,242.9 1656.2,240.0 1660.2,237.5 1666.5,234.7 1681.8,229.7 1687.0,228.6 1691.5,229.8 1693.8,231.0 1696.0,232.8 1697.5,234.6 1698.8,236.9 1702.0,245.5 1704.5,254.6 1709.5,286.5 1711.0,300.0 1713.0,326.5 1718.2,368.3 1723.5,424.9 1728.2,485.3 1740.5,657.9 1745.0,710.7 1749.8,757.9 1757.0,816.8 1761.2,846.4 1765.5,873.0 1770.8,902.4 1779.2,945.7 1780.8,950.5 1783.0,955.6 1786.0,959.7 1788.5,961.9 1790.8,963.3 1793.0,964.1 1795.5,962.1 1798.2,958.6 1799.5,955.7 1804.5,934.1 1808.5,912.2 1814.0,877.9 1818.8,844.5 1824.2,802.2 1830.5,750.8 1837.0,693.7 1842.5,642.2 1847.2,594.0 1851.0,576.2 1852.5,571.4 1854.8,565.8 1856.5,563.8 1857.5,563.1 1858.8,562.9 1859.5,563.1 1860.2,563.9 1861.2,566.5 1863.0,576.1 1864.5,596.1 1872.8,651.3 1879.8,704.5 1885.8,757.2 1891.0,810.4 1896.0,869.3 1900.8,934.2 1907.0,1031.0 1913.0,1131.6" stroke="#A2142F"/><path d="M293.0,1608.7 424.0,1611.9 440.8,1612.0 461.0,1611.7 478.5,1611.0 492.0,1609.9 500.0,1608.7 518.5,1605.2 531.8,1603.7 547.5,1602.6 561.8,1602.5 589.2,1604.0 620.0,1606.6 702.2,1616.6 740.0,1620.1 763.5,1621.5 786.0,1622.3 810.2,1622.7 835.5,1622.5 852.5,1621.2 857.0,1620.2 862.0,1618.6 870.2,1614.8 880.2,1609.4 885.2,1606.1 896.2,1597.9 902.0,1594.6 906.5,1592.6 911.0,1591.1 922.0,1588.9 930.8,1588.1 941.2,1587.7 954.2,1588.0 968.2,1588.7 985.0,1590.5 1046.0,1599.1 1070.2,1601.2 1078.5,1601.5 1086.2,1601.4 1094.2,1600.7 1102.5,1599.3 1110.0,1597.4 1116.2,1595.2 1122.5,1592.2 1128.5,1588.4 1134.2,1584.1 1139.8,1579.1 1163.0,1555.9 1169.2,1548.6 1176.5,1539.0 1186.5,1524.6 1192.0,1515.6 1201.0,1499.1 1203.2,1493.9 1204.2,1490.3 1210.0,1444.7 1214.8,1401.4 1219.0,1356.1 1223.0,1305.8 1226.0,1261.7 1229.0,1210.9 1238.0,1032.4 1242.0,961.2 1247.0,888.7 1252.5,825.3 1256.2,789.0 1260.2,754.8 1264.8,720.6 1269.2,690.2 1272.8,672.0 1276.0,658.8 1278.5,650.3 1280.2,645.8 1282.2,642.3 1284.2,640.5 1286.2,639.9 1288.5,639.9 1291.0,641.3 1292.8,643.8 1294.5,647.7 1296.0,652.2 1297.2,657.3 1301.0,677.6 1314.0,776.8 1341.2,1003.1 1348.5,1058.3 1355.8,1109.1 1364.8,1166.0 1373.0,1210.7 1377.5,1232.0 1382.0,1251.4 1386.8,1270.2 1391.8,1288.2 1398.5,1310.2 1405.5,1330.8 1412.0,1347.6 1419.0,1363.5 1427.0,1379.2 1436.2,1395.1 1442.8,1404.2 1451.2,1414.3 1457.5,1420.8 1462.5,1424.8 1471.8,1430.1 1474.2,1431.1 1476.5,1431.6 1478.8,1431.7 1482.5,1431.2 1495.5,1428.6 1504.8,1427.2 1508.5,1425.5 1512.8,1422.1 1516.8,1417.4 1520.5,1412.0 1532.2,1390.2 1537.0,1380.0 1543.2,1362.5 1548.5,1349.9 1551.8,1343.6 1555.5,1338.5 1557.8,1336.4 1560.0,1334.9 1562.5,1334.0 1565.2,1333.5 1567.8,1333.5 1569.8,1333.9 1578.0,1337.7 1585.0,1339.4 1587.0,1339.3 1588.8,1338.8 1590.2,1337.6 1591.5,1335.9 1593.5,1331.7 1595.0,1325.7 1598.0,1309.7 1602.8,1280.5 1605.8,1247.8 1609.8,1174.4 1613.2,1095.2 1616.0,1015.0 1618.0,939.1 1619.5,866.0 1623.5,592.3 1625.2,499.9 1628.0,399.2 1631.2,308.6 1632.0,294.6 1633.5,281.2 1634.5,275.8 1635.8,271.3 1637.8,266.1 1640.0,261.4 1642.8,256.7 1646.0,252.0 1648.8,248.9 1652.5,245.5 1656.2,242.6 1660.2,240.1 1666.8,237.2 1681.2,232.6 1687.0,231.4 1691.0,232.3 1693.2,233.4 1695.5,235.0 1697.0,236.6 1698.5,239.0 1701.8,247.2 1704.5,256.9 1709.5,288.1 1711.0,301.6 1713.0,328.4 1718.2,369.9 1723.5,426.4 1728.2,486.9 1740.5,659.7 1745.0,712.6 1749.8,759.8 1757.0,818.8 1761.2,848.4 1765.5,874.9 1771.0,905.7 1779.2,947.5 1780.8,952.5 1783.0,957.7 1785.8,961.7 1790.2,965.5 1793.0,966.6 1795.0,965.1 1797.8,961.7 1799.2,958.7 1804.2,936.9 1808.5,913.7 1814.0,879.3 1818.8,846.0 1824.5,802.0 1831.0,748.8 1837.5,692.2 1842.8,643.1 1847.2,597.3 1849.0,588.5 1851.0,580.5 1852.5,576.1 1854.8,571.3 1856.5,569.7 1857.5,569.2 1858.8,569.2 1859.5,569.6 1860.2,570.5 1861.2,573.4 1863.0,583.9 1864.5,604.7 1873.0,662.4 1880.2,718.9 1886.0,770.4 1891.2,824.4 1896.2,883.9 1901.0,949.2 1907.0,1042.6 1913.0,1144.1" stroke="#A2142F"/><path d="M293.0,1610.8 424.5,1613.8 441.0,1613.9 461.2,1613.6 478.5,1613.0 492.0,1611.8 500.0,1610.6 518.5,1607.0 531.5,1605.5 547.5,1604.4 561.8,1604.3 589.5,1605.9 620.2,1608.5 703.0,1618.4 740.2,1621.8 763.5,1623.2 786.0,1624.0 810.2,1624.3 835.0,1624.0 852.5,1622.7 857.0,1621.7 862.0,1620.1 870.2,1616.3 880.2,1610.8 885.2,1607.6 896.0,1599.5 902.0,1596.0 906.5,1594.1 911.2,1592.5 922.2,1590.3 930.8,1589.4 941.2,1589.1 954.2,1589.3 968.2,1590.0 984.2,1591.7 1046.0,1600.4 1070.5,1602.5 1078.5,1602.8 1086.2,1602.7 1094.2,1602.0 1102.5,1600.6 1109.8,1598.8 1116.0,1596.6 1122.2,1593.6 1128.2,1589.9 1134.0,1585.5 1139.5,1580.5 1163.0,1557.2 1169.0,1550.2 1176.0,1541.1 1185.8,1527.1 1191.5,1517.8 1201.0,1500.6 1203.2,1495.5 1204.2,1491.9 1210.0,1446.2 1214.8,1403.0 1219.0,1357.8 1223.0,1307.6 1226.0,1263.5 1229.0,1212.9 1238.0,1034.9 1242.0,964.0 1247.0,891.6 1252.5,828.3 1256.2,792.0 1260.5,755.9 1265.2,720.2 1269.5,692.0 1273.0,673.7 1276.2,660.5 1278.8,652.1 1280.2,648.3 1282.2,644.9 1284.2,643.1 1286.2,642.4 1288.5,642.5 1291.0,643.8 1292.8,646.3 1294.5,650.1 1296.0,654.6 1297.2,659.7 1301.0,679.9 1308.0,731.7 1314.5,782.9 1341.8,1009.2 1349.0,1064.3 1356.2,1115.1 1365.2,1172.0 1373.8,1218.0 1382.8,1258.9 1387.5,1277.8 1392.8,1296.9 1399.5,1319.1 1406.2,1339.1 1412.5,1355.3 1419.0,1369.9 1427.0,1385.2 1436.0,1400.0 1443.0,1409.6 1451.8,1419.8 1458.0,1426.2 1463.8,1430.9 1471.5,1435.7 1474.0,1436.8 1476.5,1437.4 1481.0,1437.2 1495.0,1434.2 1505.2,1433.0 1508.8,1431.3 1512.5,1428.2 1517.0,1423.1 1520.5,1418.0 1533.2,1394.3 1537.0,1386.0 1543.0,1367.9 1547.2,1357.4 1551.2,1349.1 1555.0,1343.8 1557.5,1341.3 1560.0,1339.5 1562.5,1338.4 1565.5,1337.6 1569.8,1337.5 1578.2,1340.4 1585.5,1341.6 1587.2,1341.4 1588.8,1340.9 1590.2,1339.6 1591.5,1338.0 1593.5,1333.6 1595.0,1327.3 1598.2,1309.4 1602.8,1281.6 1605.8,1247.8 1610.0,1171.0 1613.5,1092.4 1616.2,1012.5 1618.2,935.9 1619.8,860.9 1623.5,598.2 1625.2,505.0 1628.0,404.2 1631.2,313.5 1632.0,299.4 1633.5,286.4 1635.5,277.9 1637.2,273.3 1639.5,268.8 1642.0,264.7 1645.2,260.2 1648.2,256.9 1651.8,253.8 1655.8,250.7 1659.8,248.2 1666.8,245.1 1678.2,241.6 1685.5,240.1 1689.5,240.3 1692.2,241.1 1694.5,242.3 1696.5,244.0 1698.0,245.9 1699.5,248.7 1701.5,253.7 1704.5,263.8 1709.2,291.3 1710.8,303.6 1713.0,334.0 1718.2,374.6 1723.5,430.5 1728.5,493.8 1740.5,662.4 1745.0,715.0 1749.8,762.0 1757.0,820.8 1761.2,850.4 1765.5,876.9 1771.0,907.7 1779.2,949.4 1781.0,955.1 1783.2,960.3 1785.8,964.0 1790.2,967.9 1793.0,969.2 1794.8,967.8 1797.8,964.1 1799.2,960.9 1803.8,941.0 1807.2,922.4 1812.2,892.3 1818.0,853.0 1824.5,803.8 1838.0,692.4 1843.0,646.1 1847.2,602.4 1849.0,594.3 1851.0,587.2 1852.5,583.6 1854.5,580.5 1856.0,579.4 1857.5,579.1 1858.5,579.3 1860.0,580.6 1861.0,583.4 1863.0,596.2 1864.5,618.5 1872.8,675.7 1880.2,735.3 1886.0,787.7 1891.2,842.4 1896.5,905.4 1901.5,974.7 1907.0,1061.0 1913.0,1164.0" stroke="#A2142F"/><path d="M293.0,1612.2 425.0,1615.1 441.2,1615.2 461.8,1614.9 478.8,1614.2 492.0,1613.1 500.0,1611.9 518.2,1608.3 531.2,1606.8 547.2,1605.7 561.5,1605.5 589.2,1607.1 620.2,1609.7 703.5,1619.6 740.2,1622.9 763.5,1624.3 786.0,1625.0 810.0,1625.3 834.8,1625.0 852.2,1623.7 857.0,1622.7 861.8,1621.1 870.0,1617.4 880.2,1611.8 885.2,1608.5 896.0,1600.5 902.0,1597.0 906.5,1595.0 911.2,1593.4 922.5,1591.1 931.0,1590.3 941.5,1590.0 954.2,1590.2 968.2,1590.9 983.8,1592.6 1046.0,1601.2 1070.5,1603.4 1078.5,1603.7 1086.2,1603.6 1094.0,1602.9 1102.2,1601.5 1109.5,1599.8 1115.8,1597.6 1122.0,1594.5 1128.2,1590.7 1134.0,1586.4 1139.5,1581.3 1163.0,1558.0 1169.0,1551.1 1176.0,1542.0 1185.8,1528.0 1191.5,1518.7 1201.2,1501.2 1203.2,1496.6 1204.2,1493.0 1210.2,1445.1 1214.8,1404.0 1219.0,1358.9 1223.0,1308.7 1226.0,1264.7 1229.0,1214.1 1238.0,1036.6 1242.0,965.8 1247.0,893.6 1252.5,830.3 1256.2,794.1 1260.5,757.9 1265.2,722.3 1269.8,692.7 1273.0,675.6 1276.2,662.3 1278.8,653.9 1280.2,650.1 1282.2,646.6 1284.2,644.8 1286.2,644.1 1288.5,644.2 1291.0,645.5 1292.8,648.0 1294.8,652.4 1297.5,662.4 1301.0,681.5 1308.0,733.2 1314.5,784.2 1341.8,1010.4 1349.0,1065.4 1356.2,1116.3 1365.2,1173.2 1373.8,1219.4 1378.2,1240.9 1383.0,1261.6 1388.0,1281.5 1393.2,1300.5 1399.8,1322.0 1406.5,1342.0 1412.8,1358.2 1419.0,1372.2 1426.8,1386.9 1435.8,1401.5 1443.0,1411.3 1452.0,1421.8 1458.5,1428.4 1464.2,1433.1 1471.8,1437.8 1474.2,1438.9 1476.5,1439.4 1478.8,1439.5 1482.8,1438.9 1496.0,1435.9 1505.2,1435.0 1508.8,1433.4 1512.5,1430.3 1517.0,1425.2 1520.5,1420.1 1533.5,1396.0 1537.2,1387.4 1542.5,1371.0 1545.2,1363.7 1550.5,1352.1 1552.5,1348.7 1555.0,1345.4 1557.5,1343.0 1560.0,1341.2 1563.0,1339.8 1566.0,1339.0 1568.2,1338.7 1570.2,1338.9 1578.2,1341.5 1585.5,1342.5 1588.8,1341.7 1590.2,1340.5 1591.5,1338.8 1593.5,1334.3 1595.0,1328.0 1598.2,1309.9 1602.8,1282.0 1605.8,1247.8 1610.2,1167.4 1614.0,1083.9 1616.8,1003.6 1618.5,936.3 1620.0,860.1 1623.5,608.1 1625.2,513.4 1627.8,420.3 1631.8,311.2 1632.8,299.9 1634.5,290.5 1637.0,284.0 1640.8,277.8 1646.8,270.8 1654.2,264.6 1662.2,260.0 1666.2,258.3 1671.0,256.9 1680.5,254.8 1687.2,254.1 1690.5,254.4 1692.8,255.0 1695.0,256.1 1697.0,257.7 1698.5,259.6 1700.0,262.3 1703.2,271.0 1705.5,279.3 1708.8,296.3 1710.8,311.8 1713.0,343.3 1718.2,382.3 1723.5,437.0 1728.5,499.0 1740.8,668.4 1745.2,719.9 1750.0,765.8 1757.5,825.5 1761.8,854.6 1766.2,882.3 1771.2,910.0 1779.2,950.4 1781.5,957.4 1783.8,962.3 1786.8,966.2 1791.0,969.6 1793.0,970.4 1795.0,968.8 1797.8,965.3 1799.2,962.0 1803.5,943.0 1807.2,923.1 1812.2,893.0 1818.0,853.7 1824.2,806.7 1831.8,747.2 1838.2,692.5 1843.0,648.8 1847.2,605.0 1850.5,592.0 1851.8,588.8 1853.2,586.3 1855.0,584.5 1856.0,584.1 1857.5,584.0 1858.5,584.3 1859.5,585.1 1860.8,587.9 1862.8,599.8 1864.5,625.5 1872.8,683.2 1880.2,743.5 1886.0,796.4 1891.2,851.4 1896.5,914.5 1901.8,987.4 1907.0,1070.2 1913.0,1173.9" stroke="#A2142F"/><path d="M293.0,1613.6 425.2,1616.4 441.5,1616.5 462.0,1616.2 478.8,1615.5 492.0,1614.4 500.0,1613.2 518.2,1609.6 531.0,1608.0 547.0,1606.9 561.5,1606.7 589.5,1608.3 620.8,1610.9 704.0,1620.8 740.2,1624.0 763.5,1625.4 786.0,1626.1 810.0,1626.4 834.5,1626.1 852.2,1624.7 857.0,1623.7 861.8,1622.1 870.0,1618.4 880.2,1612.8 885.2,1609.5 896.0,1601.5 902.0,1598.0 906.8,1595.9 911.5,1594.3 922.8,1592.0 931.2,1591.2 941.8,1590.9 954.5,1591.1 968.2,1591.8 983.5,1593.4 1046.0,1602.1 1070.8,1604.3 1078.8,1604.6 1086.2,1604.5 1094.0,1603.8 1102.2,1602.4 1109.5,1600.6 1115.8,1598.4 1121.8,1595.5 1128.0,1591.7 1133.8,1587.4 1139.2,1582.4 1163.0,1558.9 1168.8,1552.3 1175.5,1543.5 1185.2,1529.6 1191.2,1520.0 1201.2,1502.2 1203.2,1497.7 1204.2,1494.1 1210.2,1446.1 1214.8,1405.0 1219.0,1359.9 1223.0,1309.8 1226.0,1265.9 1229.0,1215.4 1238.0,1038.3 1242.0,967.6 1247.0,895.5 1252.5,832.3 1256.2,796.1 1260.5,760.0 1265.2,724.4 1269.8,694.8 1273.0,677.5 1276.2,664.0 1278.8,655.6 1280.2,651.8 1282.2,648.3 1284.2,646.5 1286.2,645.8 1288.5,645.9 1291.0,647.2 1292.8,649.6 1294.8,654.0 1297.5,664.0 1301.0,683.1 1308.0,734.7 1314.5,785.6 1342.0,1013.4 1349.2,1068.4 1356.5,1119.1 1365.5,1175.9 1374.0,1222.1 1378.5,1243.6 1383.2,1264.3 1388.2,1284.2 1393.5,1303.3 1400.0,1324.8 1406.5,1344.2 1412.8,1360.5 1419.0,1374.4 1426.8,1389.0 1435.2,1402.6 1443.0,1413.1 1452.2,1423.8 1458.8,1430.4 1465.2,1435.6 1471.8,1439.8 1474.2,1440.9 1476.5,1441.4 1478.8,1441.5 1482.8,1440.9 1495.5,1437.9 1505.2,1437.1 1508.5,1435.6 1512.5,1432.3 1517.2,1426.9 1520.5,1422.3 1533.8,1397.6 1537.2,1389.5 1542.5,1372.7 1545.0,1366.0 1550.0,1355.3 1552.0,1352.0 1554.2,1349.1 1556.5,1347.1 1559.2,1345.4 1562.0,1344.5 1565.0,1344.1 1567.8,1344.2 1570.0,1344.7 1578.2,1348.7 1585.2,1350.6 1587.2,1350.6 1588.8,1350.1 1590.0,1349.1 1591.2,1347.4 1593.0,1343.6 1594.5,1337.4 1602.5,1288.0 1603.2,1281.5 1605.8,1247.9 1610.5,1168.2 1613.8,1098.2 1616.5,1020.6 1618.2,955.2 1619.8,881.4 1623.5,610.3 1625.2,515.1 1628.0,414.4 1631.2,323.5 1632.0,309.1 1633.0,299.9 1634.8,291.5 1637.5,285.0 1641.5,279.0 1647.5,272.5 1655.0,266.7 1662.8,262.4 1671.0,259.5 1680.2,257.5 1687.2,256.9 1692.8,257.7 1695.0,258.8 1697.0,260.3 1698.5,262.2 1700.0,264.8 1703.2,273.4 1705.5,281.4 1708.8,297.9 1710.8,313.4 1713.0,345.2 1718.2,383.8 1723.8,440.8 1728.5,499.5 1740.8,667.5 1745.2,718.5 1750.0,764.1 1757.5,823.5 1761.8,852.6 1766.2,880.3 1771.2,908.0 1779.2,948.5 1781.2,954.8 1783.5,959.7 1786.2,963.4 1790.5,966.9 1793.0,967.9 1794.8,966.5 1797.8,962.9 1799.2,959.8 1803.5,941.4 1807.2,921.6 1812.2,891.6 1817.8,854.0 1823.8,809.1 1838.8,689.9 1843.2,649.0 1847.2,607.6 1848.8,601.1 1850.5,595.3 1851.8,592.3 1853.2,590.3 1855.2,589.0 1857.5,588.9 1859.5,590.3 1860.8,593.3 1862.8,605.8 1864.5,632.4 1872.8,690.7 1880.5,753.9 1886.2,807.6 1891.5,863.2 1896.8,926.9 1902.0,1000.2 1907.0,1079.4 1913.0,1183.9" stroke="#A2142F"/></g>
<text transform="translate(609.7,1797.5) scale(0.962,1)" text-anchor="middle" font-family="'Liberation Sans', sans-serif" font-weight="bold" font-size="91.0" fill="#000">10,000</text>
<text transform="translate(1047.2,1797.5) scale(0.962,1)" text-anchor="middle" font-family="'Liberation Sans', sans-serif" font-weight="bold" font-size="91.0" fill="#262626">8000</text>
<text transform="translate(1475.0,1797.5) scale(0.962,1)" text-anchor="middle" font-family="'Liberation Sans', sans-serif" font-weight="bold" font-size="91.0" fill="#262626">6000</text>
<text transform="translate(1902.3,1797.5) scale(0.962,1)" text-anchor="middle" font-family="'Liberation Sans', sans-serif" font-weight="bold" font-size="91.0" fill="#262626">4000</text>
<text transform="translate(258.5,91.7) scale(0.962,1)" text-anchor="end" font-family="'Liberation Sans', sans-serif" font-weight="bold" font-size="91.0" fill="#262626">4.0</text>
<text transform="translate(258.5,496.6) scale(0.962,1)" text-anchor="end" font-family="'Liberation Sans', sans-serif" font-weight="bold" font-size="91.0" fill="#262626">3.0</text>
<text transform="translate(258.5,902.8) scale(0.962,1)" text-anchor="end" font-family="'Liberation Sans', sans-serif" font-weight="bold" font-size="91.0" fill="#262626">2.0</text>
<text transform="translate(258.5,1309.4) scale(0.962,1)" text-anchor="end" font-family="'Liberation Sans', sans-serif" font-weight="bold" font-size="91.0" fill="#262626">1.0</text>
<text transform="translate(258.5,1714.35) scale(0.962,1)" text-anchor="end" font-family="'Liberation Sans', sans-serif" font-weight="bold" font-size="91.0" fill="#262626">0</text>
<text transform="translate(664.5,1940.5) scale(0.972,1)" font-family="'Liberation Sans', sans-serif" font-weight="bold" font-size="96.6" fill="#262626">Wavenumber (cm</text>
<text transform="translate(1446.0,1893.0)" font-family="'Liberation Sans', sans-serif" font-weight="bold" font-size="73" fill="#262626">-1</text>
<text transform="translate(1508.5,1940.5)" font-family="'Liberation Sans', sans-serif" font-weight="bold" font-size="93" fill="#262626">)</text>
<text transform="translate(110.5,1359) rotate(-90) scale(0.974,1)" font-family="'Liberation Sans', sans-serif" font-weight="bold" font-size="98.9" fill="#262626">Absorbance (log 1/T)</text></svg>
</body></html>
